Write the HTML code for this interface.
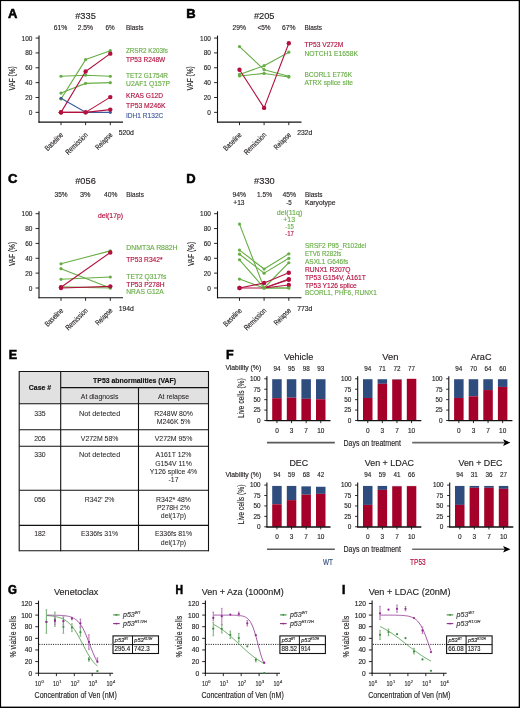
<!DOCTYPE html>
<html><head><meta charset="utf-8"><style>
html,body{margin:0;padding:0;background:#fff;}
svg{display:block;will-change:transform;}
text{font-family:"Liberation Sans",sans-serif;}
</style></head><body>
<svg width="520" height="708" viewBox="0 0 520 708" font-family="Liberation Sans, sans-serif" fill="#231f20" stroke-width="0.15">
<rect x="0" y="0" width="520" height="708" fill="#fff"/>
<text x="8.00" y="18.00" font-size="13" fill="#000" stroke="#000" stroke-width="0.55" font-weight="bold">A</text>
<text x="85.50" y="19.30" font-size="9.8" text-anchor="middle" stroke="#231f20" textLength="20.60" lengthAdjust="spacingAndGlyphs">#335</text>
<text x="60.60" y="30.00" font-size="7.6" text-anchor="middle" stroke="#231f20" textLength="13.60" lengthAdjust="spacingAndGlyphs">61%</text>
<text x="85.40" y="30.00" font-size="7.6" text-anchor="middle" stroke="#231f20" textLength="15.40" lengthAdjust="spacingAndGlyphs">2.5%</text>
<text x="110.00" y="30.00" font-size="7.6" text-anchor="middle" stroke="#231f20" textLength="9.20" lengthAdjust="spacingAndGlyphs">6%</text>
<line x1="39.00" y1="35.60" x2="39.00" y2="122.65" stroke="#111" stroke-width="1.1"/>
<line x1="38.50" y1="122.15" x2="123.00" y2="122.15" stroke="#111" stroke-width="1.1"/>
<line x1="35.60" y1="112.35" x2="39.00" y2="112.35" stroke="#111" stroke-width="0.9"/>
<text x="32.40" y="114.90" font-size="7.2" text-anchor="end" stroke="#231f20" textLength="3.60" lengthAdjust="spacingAndGlyphs">0</text>
<line x1="35.60" y1="97.49" x2="39.00" y2="97.49" stroke="#111" stroke-width="0.9"/>
<text x="32.40" y="100.04" font-size="7.2" text-anchor="end" stroke="#231f20" textLength="7.20" lengthAdjust="spacingAndGlyphs">20</text>
<line x1="35.60" y1="82.63" x2="39.00" y2="82.63" stroke="#111" stroke-width="0.9"/>
<text x="32.40" y="85.18" font-size="7.2" text-anchor="end" stroke="#231f20" textLength="7.20" lengthAdjust="spacingAndGlyphs">40</text>
<line x1="35.60" y1="67.77" x2="39.00" y2="67.77" stroke="#111" stroke-width="0.9"/>
<text x="32.40" y="70.32" font-size="7.2" text-anchor="end" stroke="#231f20" textLength="7.20" lengthAdjust="spacingAndGlyphs">60</text>
<line x1="35.60" y1="52.91" x2="39.00" y2="52.91" stroke="#111" stroke-width="0.9"/>
<text x="32.40" y="55.46" font-size="7.2" text-anchor="end" stroke="#231f20" textLength="7.20" lengthAdjust="spacingAndGlyphs">80</text>
<line x1="35.60" y1="38.05" x2="39.00" y2="38.05" stroke="#111" stroke-width="0.9"/>
<text x="32.40" y="40.60" font-size="7.2" text-anchor="end" stroke="#231f20" textLength="10.80" lengthAdjust="spacingAndGlyphs">100</text>
<line x1="61.00" y1="122.15" x2="61.00" y2="125.15" stroke="#111" stroke-width="0.9"/>
<line x1="85.60" y1="122.15" x2="85.60" y2="125.15" stroke="#111" stroke-width="0.9"/>
<line x1="110.30" y1="122.15" x2="110.30" y2="125.15" stroke="#111" stroke-width="0.9"/>
<text x="63.70" y="135.45" font-size="7.6" text-anchor="end" stroke="#231f20" textLength="22.50" lengthAdjust="spacingAndGlyphs" transform="rotate(-45 63.70 135.45)">Baseline</text>
<text x="88.30" y="135.45" font-size="7.6" text-anchor="end" stroke="#231f20" textLength="27.90" lengthAdjust="spacingAndGlyphs" transform="rotate(-45 88.30 135.45)">Remission</text>
<text x="113.00" y="135.45" font-size="7.6" text-anchor="end" stroke="#231f20" textLength="20.80" lengthAdjust="spacingAndGlyphs" transform="rotate(-45 113.00 135.45)">Relapse</text>
<text x="118.70" y="135.15" font-size="7.2" stroke="#231f20" textLength="15.20" lengthAdjust="spacingAndGlyphs">520d</text>
<text x="15.00" y="78.35" font-size="8.2" text-anchor="middle" stroke="#231f20" textLength="24.20" lengthAdjust="spacingAndGlyphs" transform="rotate(-90 15.00 78.35)">VAF (%)</text>
<text x="126.00" y="29.90" font-size="7.6" stroke="#231f20" textLength="17.60" lengthAdjust="spacingAndGlyphs">Blasts</text>
<text x="126.00" y="52.90" font-size="7.9" fill="#67ad45" stroke="#67ad45" textLength="41.90" lengthAdjust="spacingAndGlyphs">ZRSR2 K203fs</text>
<text x="126.00" y="62.20" font-size="7.9" fill="#b3103f" stroke="#b3103f" textLength="39.20" lengthAdjust="spacingAndGlyphs">TP53 R248W</text>
<text x="126.00" y="78.00" font-size="7.9" fill="#67ad45" stroke="#67ad45" textLength="42.00" lengthAdjust="spacingAndGlyphs">TET2 G1754R</text>
<text x="126.00" y="85.60" font-size="7.9" fill="#67ad45" stroke="#67ad45" textLength="44.00" lengthAdjust="spacingAndGlyphs">U2AF1 Q157P</text>
<text x="126.00" y="97.60" font-size="7.9" fill="#b3103f" stroke="#b3103f" textLength="37.00" lengthAdjust="spacingAndGlyphs">KRAS G12D</text>
<text x="126.00" y="108.20" font-size="7.9" fill="#b3103f" stroke="#b3103f" textLength="39.50" lengthAdjust="spacingAndGlyphs">TP53 M246K</text>
<text x="126.00" y="117.60" font-size="7.9" fill="#3e5b9f" stroke="#3e5b9f" textLength="37.30" lengthAdjust="spacingAndGlyphs">IDH1 R132C</text>
<polyline points="61.00,76.24 85.60,75.20 110.30,76.24" fill="none" stroke="#67ad45" stroke-width="1.1" stroke-linejoin="round"/>
<polyline points="61.00,93.03 85.60,83.37 110.30,82.63" fill="none" stroke="#67ad45" stroke-width="1.1" stroke-linejoin="round"/>
<polyline points="61.00,98.98 85.60,59.60 110.30,50.68" fill="none" stroke="#67ad45" stroke-width="1.1" stroke-linejoin="round"/>
<polyline points="61.00,98.23 85.60,112.35 110.30,112.35" fill="none" stroke="#3e5b9f" stroke-width="1.1" stroke-linejoin="round"/>
<polyline points="61.00,112.35 85.60,71.48 110.30,53.65" fill="none" stroke="#b3103f" stroke-width="1.1" stroke-linejoin="round"/>
<polyline points="61.00,112.35 85.60,112.35 110.30,97.12" fill="none" stroke="#b3103f" stroke-width="1.1" stroke-linejoin="round"/>
<polyline points="61.00,112.35 85.60,112.35 110.30,109.60" fill="none" stroke="#b3103f" stroke-width="1.1" stroke-linejoin="round"/>
<circle cx="61.00" cy="76.24" r="1.6" fill="#67ad45"/>
<circle cx="85.60" cy="75.20" r="1.6" fill="#67ad45"/>
<circle cx="110.30" cy="76.24" r="1.6" fill="#67ad45"/>
<circle cx="61.00" cy="93.03" r="1.6" fill="#67ad45"/>
<circle cx="85.60" cy="83.37" r="1.6" fill="#67ad45"/>
<circle cx="110.30" cy="82.63" r="1.6" fill="#67ad45"/>
<circle cx="61.00" cy="98.98" r="1.6" fill="#67ad45"/>
<circle cx="85.60" cy="59.60" r="1.6" fill="#67ad45"/>
<circle cx="110.30" cy="50.68" r="1.6" fill="#67ad45"/>
<circle cx="61.00" cy="98.23" r="1.6" fill="#3e5b9f"/>
<circle cx="85.60" cy="112.35" r="1.6" fill="#3e5b9f"/>
<circle cx="110.30" cy="112.35" r="1.6" fill="#3e5b9f"/>
<circle cx="61.00" cy="112.35" r="2.2" fill="#b3103f"/>
<circle cx="85.60" cy="71.48" r="2.2" fill="#b3103f"/>
<circle cx="110.30" cy="53.65" r="2.2" fill="#b3103f"/>
<circle cx="61.00" cy="112.35" r="2.2" fill="#b3103f"/>
<circle cx="85.60" cy="112.35" r="2.2" fill="#b3103f"/>
<circle cx="110.30" cy="97.12" r="2.2" fill="#b3103f"/>
<circle cx="61.00" cy="112.35" r="2.2" fill="#b3103f"/>
<circle cx="85.60" cy="112.35" r="2.2" fill="#b3103f"/>
<circle cx="110.30" cy="109.60" r="2.2" fill="#b3103f"/>
<text x="186.30" y="18.00" font-size="13" fill="#000" stroke="#000" stroke-width="0.55" font-weight="bold">B</text>
<text x="264.20" y="19.30" font-size="9.8" text-anchor="middle" stroke="#231f20" textLength="20.60" lengthAdjust="spacingAndGlyphs">#205</text>
<text x="239.25" y="30.00" font-size="7.6" text-anchor="middle" stroke="#231f20" textLength="13.50" lengthAdjust="spacingAndGlyphs">29%</text>
<text x="264.00" y="30.00" font-size="7.6" text-anchor="middle" stroke="#231f20" textLength="13.20" lengthAdjust="spacingAndGlyphs">&lt;5%</text>
<text x="288.80" y="30.00" font-size="7.6" text-anchor="middle" stroke="#231f20" textLength="13.60" lengthAdjust="spacingAndGlyphs">67%</text>
<line x1="217.50" y1="35.60" x2="217.50" y2="122.65" stroke="#111" stroke-width="1.1"/>
<line x1="217.00" y1="122.15" x2="301.50" y2="122.15" stroke="#111" stroke-width="1.1"/>
<line x1="214.10" y1="112.35" x2="217.50" y2="112.35" stroke="#111" stroke-width="0.9"/>
<text x="210.90" y="114.90" font-size="7.2" text-anchor="end" stroke="#231f20" textLength="3.60" lengthAdjust="spacingAndGlyphs">0</text>
<line x1="214.10" y1="97.49" x2="217.50" y2="97.49" stroke="#111" stroke-width="0.9"/>
<text x="210.90" y="100.04" font-size="7.2" text-anchor="end" stroke="#231f20" textLength="7.20" lengthAdjust="spacingAndGlyphs">20</text>
<line x1="214.10" y1="82.63" x2="217.50" y2="82.63" stroke="#111" stroke-width="0.9"/>
<text x="210.90" y="85.18" font-size="7.2" text-anchor="end" stroke="#231f20" textLength="7.20" lengthAdjust="spacingAndGlyphs">40</text>
<line x1="214.10" y1="67.77" x2="217.50" y2="67.77" stroke="#111" stroke-width="0.9"/>
<text x="210.90" y="70.32" font-size="7.2" text-anchor="end" stroke="#231f20" textLength="7.20" lengthAdjust="spacingAndGlyphs">60</text>
<line x1="214.10" y1="52.91" x2="217.50" y2="52.91" stroke="#111" stroke-width="0.9"/>
<text x="210.90" y="55.46" font-size="7.2" text-anchor="end" stroke="#231f20" textLength="7.20" lengthAdjust="spacingAndGlyphs">80</text>
<line x1="214.10" y1="38.05" x2="217.50" y2="38.05" stroke="#111" stroke-width="0.9"/>
<text x="210.90" y="40.60" font-size="7.2" text-anchor="end" stroke="#231f20" textLength="10.80" lengthAdjust="spacingAndGlyphs">100</text>
<line x1="239.50" y1="122.15" x2="239.50" y2="125.15" stroke="#111" stroke-width="0.9"/>
<line x1="264.10" y1="122.15" x2="264.10" y2="125.15" stroke="#111" stroke-width="0.9"/>
<line x1="288.80" y1="122.15" x2="288.80" y2="125.15" stroke="#111" stroke-width="0.9"/>
<text x="242.20" y="135.45" font-size="7.6" text-anchor="end" stroke="#231f20" textLength="22.50" lengthAdjust="spacingAndGlyphs" transform="rotate(-45 242.20 135.45)">Baseline</text>
<text x="266.80" y="135.45" font-size="7.6" text-anchor="end" stroke="#231f20" textLength="27.90" lengthAdjust="spacingAndGlyphs" transform="rotate(-45 266.80 135.45)">Remission</text>
<text x="291.50" y="135.45" font-size="7.6" text-anchor="end" stroke="#231f20" textLength="20.80" lengthAdjust="spacingAndGlyphs" transform="rotate(-45 291.50 135.45)">Relapse</text>
<text x="297.20" y="135.15" font-size="7.2" stroke="#231f20" textLength="15.20" lengthAdjust="spacingAndGlyphs">232d</text>
<text x="193.50" y="78.35" font-size="8.2" text-anchor="middle" stroke="#231f20" textLength="24.20" lengthAdjust="spacingAndGlyphs" transform="rotate(-90 193.50 78.35)">VAF (%)</text>
<text x="304.50" y="29.90" font-size="7.6" stroke="#231f20" textLength="17.60" lengthAdjust="spacingAndGlyphs">Blasts</text>
<text x="304.50" y="47.00" font-size="7.9" fill="#b3103f" stroke="#b3103f" textLength="38.80" lengthAdjust="spacingAndGlyphs">TP53 V272M</text>
<text x="304.50" y="55.80" font-size="7.9" fill="#67ad45" stroke="#67ad45" textLength="53.50" lengthAdjust="spacingAndGlyphs">NOTCH1 E1658K</text>
<text x="304.50" y="76.60" font-size="7.9" fill="#67ad45" stroke="#67ad45" textLength="47.50" lengthAdjust="spacingAndGlyphs">BCORL1 E776K</text>
<text x="304.50" y="84.60" font-size="7.9" fill="#67ad45" stroke="#67ad45" textLength="48.50" lengthAdjust="spacingAndGlyphs">ATRX splice site</text>
<polyline points="239.50,46.59 264.10,69.70 288.80,76.31" fill="none" stroke="#67ad45" stroke-width="1.1" stroke-linejoin="round"/>
<polyline points="239.50,74.46 264.10,65.69 288.80,52.17" fill="none" stroke="#67ad45" stroke-width="1.1" stroke-linejoin="round"/>
<polyline points="239.50,75.94 264.10,73.42 288.80,77.06" fill="none" stroke="#67ad45" stroke-width="1.1" stroke-linejoin="round"/>
<polyline points="239.50,69.70 264.10,107.89 288.80,43.25" fill="none" stroke="#b3103f" stroke-width="1.1" stroke-linejoin="round"/>
<circle cx="239.50" cy="46.59" r="1.6" fill="#67ad45"/>
<circle cx="264.10" cy="69.70" r="1.6" fill="#67ad45"/>
<circle cx="288.80" cy="76.31" r="1.6" fill="#67ad45"/>
<circle cx="239.50" cy="74.46" r="1.6" fill="#67ad45"/>
<circle cx="264.10" cy="65.69" r="1.6" fill="#67ad45"/>
<circle cx="288.80" cy="52.17" r="1.6" fill="#67ad45"/>
<circle cx="239.50" cy="75.94" r="1.6" fill="#67ad45"/>
<circle cx="264.10" cy="73.42" r="1.6" fill="#67ad45"/>
<circle cx="288.80" cy="77.06" r="1.6" fill="#67ad45"/>
<circle cx="239.50" cy="69.70" r="2.2" fill="#b3103f"/>
<circle cx="264.10" cy="107.89" r="2.2" fill="#b3103f"/>
<circle cx="288.80" cy="43.25" r="2.2" fill="#b3103f"/>
<text x="8.00" y="183.00" font-size="13" fill="#000" stroke="#000" stroke-width="0.55" font-weight="bold">C</text>
<text x="85.50" y="184.30" font-size="9.8" text-anchor="middle" stroke="#231f20" textLength="20.60" lengthAdjust="spacingAndGlyphs">#056</text>
<text x="61.05" y="196.80" font-size="7.6" text-anchor="middle" stroke="#231f20" textLength="13.10" lengthAdjust="spacingAndGlyphs">35%</text>
<text x="85.25" y="196.80" font-size="7.6" text-anchor="middle" stroke="#231f20" textLength="10.50" lengthAdjust="spacingAndGlyphs">3%</text>
<text x="110.70" y="196.80" font-size="7.6" text-anchor="middle" stroke="#231f20" textLength="13.40" lengthAdjust="spacingAndGlyphs">40%</text>
<line x1="39.00" y1="211.25" x2="39.00" y2="298.30" stroke="#111" stroke-width="1.1"/>
<line x1="38.50" y1="297.80" x2="123.00" y2="297.80" stroke="#111" stroke-width="1.1"/>
<line x1="35.60" y1="288.00" x2="39.00" y2="288.00" stroke="#111" stroke-width="0.9"/>
<text x="32.40" y="290.55" font-size="7.2" text-anchor="end" stroke="#231f20" textLength="3.60" lengthAdjust="spacingAndGlyphs">0</text>
<line x1="35.60" y1="273.14" x2="39.00" y2="273.14" stroke="#111" stroke-width="0.9"/>
<text x="32.40" y="275.69" font-size="7.2" text-anchor="end" stroke="#231f20" textLength="7.20" lengthAdjust="spacingAndGlyphs">20</text>
<line x1="35.60" y1="258.28" x2="39.00" y2="258.28" stroke="#111" stroke-width="0.9"/>
<text x="32.40" y="260.83" font-size="7.2" text-anchor="end" stroke="#231f20" textLength="7.20" lengthAdjust="spacingAndGlyphs">40</text>
<line x1="35.60" y1="243.42" x2="39.00" y2="243.42" stroke="#111" stroke-width="0.9"/>
<text x="32.40" y="245.97" font-size="7.2" text-anchor="end" stroke="#231f20" textLength="7.20" lengthAdjust="spacingAndGlyphs">60</text>
<line x1="35.60" y1="228.56" x2="39.00" y2="228.56" stroke="#111" stroke-width="0.9"/>
<text x="32.40" y="231.11" font-size="7.2" text-anchor="end" stroke="#231f20" textLength="7.20" lengthAdjust="spacingAndGlyphs">80</text>
<line x1="35.60" y1="213.70" x2="39.00" y2="213.70" stroke="#111" stroke-width="0.9"/>
<text x="32.40" y="216.25" font-size="7.2" text-anchor="end" stroke="#231f20" textLength="10.80" lengthAdjust="spacingAndGlyphs">100</text>
<line x1="61.00" y1="297.80" x2="61.00" y2="300.80" stroke="#111" stroke-width="0.9"/>
<line x1="85.60" y1="297.80" x2="85.60" y2="300.80" stroke="#111" stroke-width="0.9"/>
<line x1="110.30" y1="297.80" x2="110.30" y2="300.80" stroke="#111" stroke-width="0.9"/>
<text x="63.70" y="311.10" font-size="7.6" text-anchor="end" stroke="#231f20" textLength="22.50" lengthAdjust="spacingAndGlyphs" transform="rotate(-45 63.70 311.10)">Baseline</text>
<text x="88.30" y="311.10" font-size="7.6" text-anchor="end" stroke="#231f20" textLength="27.90" lengthAdjust="spacingAndGlyphs" transform="rotate(-45 88.30 311.10)">Remission</text>
<text x="113.00" y="311.10" font-size="7.6" text-anchor="end" stroke="#231f20" textLength="20.80" lengthAdjust="spacingAndGlyphs" transform="rotate(-45 113.00 311.10)">Relapse</text>
<text x="118.70" y="310.80" font-size="7.2" stroke="#231f20" textLength="15.20" lengthAdjust="spacingAndGlyphs">194d</text>
<text x="15.00" y="254.00" font-size="8.2" text-anchor="middle" stroke="#231f20" textLength="24.20" lengthAdjust="spacingAndGlyphs" transform="rotate(-90 15.00 254.00)">VAF (%)</text>
<text x="126.30" y="197.00" font-size="7.6" stroke="#231f20" textLength="17.60" lengthAdjust="spacingAndGlyphs">Blasts</text>
<text x="126.30" y="250.00" font-size="7.9" fill="#67ad45" stroke="#67ad45" textLength="51.30" lengthAdjust="spacingAndGlyphs">DNMT3A R882H</text>
<text x="126.30" y="262.00" font-size="7.9" fill="#b3103f" stroke="#b3103f" textLength="36.30" lengthAdjust="spacingAndGlyphs">TP53 R342*</text>
<text x="126.30" y="279.00" font-size="7.9" fill="#67ad45" stroke="#67ad45" textLength="40.00" lengthAdjust="spacingAndGlyphs">TET2 Q317fs</text>
<text x="126.30" y="286.50" font-size="7.9" fill="#b3103f" stroke="#b3103f" textLength="38.30" lengthAdjust="spacingAndGlyphs">TP53 P278H</text>
<text x="126.30" y="294.00" font-size="7.9" fill="#67ad45" stroke="#67ad45" textLength="37.50" lengthAdjust="spacingAndGlyphs">NRAS G12A</text>
<polyline points="61.00,263.78 110.30,250.85" fill="none" stroke="#67ad45" stroke-width="1.1" stroke-linejoin="round"/>
<polyline points="61.00,268.68 110.30,288.00" fill="none" stroke="#67ad45" stroke-width="1.1" stroke-linejoin="round"/>
<polyline points="61.00,279.31 110.30,277.00" fill="none" stroke="#67ad45" stroke-width="1.1" stroke-linejoin="round"/>
<polyline points="61.00,286.89 110.30,288.00" fill="none" stroke="#67ad45" stroke-width="1.1" stroke-linejoin="round"/>
<polyline points="61.00,287.26 110.30,252.48" fill="none" stroke="#b3103f" stroke-width="1.1" stroke-linejoin="round"/>
<polyline points="61.00,288.00 110.30,286.37" fill="none" stroke="#b3103f" stroke-width="1.1" stroke-linejoin="round"/>
<circle cx="61.00" cy="263.78" r="1.6" fill="#67ad45"/>
<circle cx="110.30" cy="250.85" r="1.6" fill="#67ad45"/>
<circle cx="61.00" cy="268.68" r="1.6" fill="#67ad45"/>
<circle cx="110.30" cy="288.00" r="1.6" fill="#67ad45"/>
<circle cx="61.00" cy="279.31" r="1.6" fill="#67ad45"/>
<circle cx="110.30" cy="277.00" r="1.6" fill="#67ad45"/>
<circle cx="61.00" cy="286.89" r="1.6" fill="#67ad45"/>
<circle cx="110.30" cy="288.00" r="1.6" fill="#67ad45"/>
<circle cx="61.00" cy="287.26" r="2.2" fill="#b3103f"/>
<circle cx="110.30" cy="252.48" r="2.2" fill="#b3103f"/>
<circle cx="61.00" cy="288.00" r="2.2" fill="#b3103f"/>
<circle cx="110.30" cy="286.37" r="2.2" fill="#b3103f"/>
<text x="98.00" y="218.00" font-size="7.0" fill="#b3103f" stroke="#b3103f" textLength="25.00" lengthAdjust="spacingAndGlyphs">del(17p)</text>
<text x="186.30" y="183.00" font-size="13" fill="#000" stroke="#000" stroke-width="0.55" font-weight="bold">D</text>
<text x="264.40" y="184.30" font-size="9.8" text-anchor="middle" stroke="#231f20" textLength="20.60" lengthAdjust="spacingAndGlyphs">#330</text>
<text x="239.35" y="196.80" font-size="7.6" text-anchor="middle" stroke="#231f20" textLength="13.70" lengthAdjust="spacingAndGlyphs">94%</text>
<text x="264.50" y="196.80" font-size="7.6" text-anchor="middle" stroke="#231f20" textLength="15.00" lengthAdjust="spacingAndGlyphs">1.5%</text>
<text x="289.35" y="196.80" font-size="7.6" text-anchor="middle" stroke="#231f20" textLength="13.70" lengthAdjust="spacingAndGlyphs">45%</text>
<line x1="217.50" y1="211.25" x2="217.50" y2="298.30" stroke="#111" stroke-width="1.1"/>
<line x1="217.00" y1="297.80" x2="301.50" y2="297.80" stroke="#111" stroke-width="1.1"/>
<line x1="214.10" y1="288.00" x2="217.50" y2="288.00" stroke="#111" stroke-width="0.9"/>
<text x="210.90" y="290.55" font-size="7.2" text-anchor="end" stroke="#231f20" textLength="3.60" lengthAdjust="spacingAndGlyphs">0</text>
<line x1="214.10" y1="273.14" x2="217.50" y2="273.14" stroke="#111" stroke-width="0.9"/>
<text x="210.90" y="275.69" font-size="7.2" text-anchor="end" stroke="#231f20" textLength="7.20" lengthAdjust="spacingAndGlyphs">20</text>
<line x1="214.10" y1="258.28" x2="217.50" y2="258.28" stroke="#111" stroke-width="0.9"/>
<text x="210.90" y="260.83" font-size="7.2" text-anchor="end" stroke="#231f20" textLength="7.20" lengthAdjust="spacingAndGlyphs">40</text>
<line x1="214.10" y1="243.42" x2="217.50" y2="243.42" stroke="#111" stroke-width="0.9"/>
<text x="210.90" y="245.97" font-size="7.2" text-anchor="end" stroke="#231f20" textLength="7.20" lengthAdjust="spacingAndGlyphs">60</text>
<line x1="214.10" y1="228.56" x2="217.50" y2="228.56" stroke="#111" stroke-width="0.9"/>
<text x="210.90" y="231.11" font-size="7.2" text-anchor="end" stroke="#231f20" textLength="7.20" lengthAdjust="spacingAndGlyphs">80</text>
<line x1="214.10" y1="213.70" x2="217.50" y2="213.70" stroke="#111" stroke-width="0.9"/>
<text x="210.90" y="216.25" font-size="7.2" text-anchor="end" stroke="#231f20" textLength="10.80" lengthAdjust="spacingAndGlyphs">100</text>
<line x1="239.50" y1="297.80" x2="239.50" y2="300.80" stroke="#111" stroke-width="0.9"/>
<line x1="264.10" y1="297.80" x2="264.10" y2="300.80" stroke="#111" stroke-width="0.9"/>
<line x1="288.80" y1="297.80" x2="288.80" y2="300.80" stroke="#111" stroke-width="0.9"/>
<text x="242.20" y="311.10" font-size="7.6" text-anchor="end" stroke="#231f20" textLength="22.50" lengthAdjust="spacingAndGlyphs" transform="rotate(-45 242.20 311.10)">Baseline</text>
<text x="266.80" y="311.10" font-size="7.6" text-anchor="end" stroke="#231f20" textLength="27.90" lengthAdjust="spacingAndGlyphs" transform="rotate(-45 266.80 311.10)">Remission</text>
<text x="291.50" y="311.10" font-size="7.6" text-anchor="end" stroke="#231f20" textLength="20.80" lengthAdjust="spacingAndGlyphs" transform="rotate(-45 291.50 311.10)">Relapse</text>
<text x="297.20" y="310.80" font-size="7.2" stroke="#231f20" textLength="15.20" lengthAdjust="spacingAndGlyphs">773d</text>
<text x="193.50" y="254.00" font-size="8.2" text-anchor="middle" stroke="#231f20" textLength="24.20" lengthAdjust="spacingAndGlyphs" transform="rotate(-90 193.50 254.00)">VAF (%)</text>
<text x="305.00" y="196.90" font-size="7.6" stroke="#231f20" textLength="17.60" lengthAdjust="spacingAndGlyphs">Blasts</text>
<text x="305.00" y="205.00" font-size="7.6" stroke="#231f20" textLength="30.50" lengthAdjust="spacingAndGlyphs">Karyotype</text>
<text x="305.00" y="248.30" font-size="7.9" fill="#67ad45" stroke="#67ad45" textLength="61.30" lengthAdjust="spacingAndGlyphs">SRSF2 P95_R102del</text>
<text x="305.00" y="256.30" font-size="7.9" fill="#67ad45" stroke="#67ad45" textLength="36.30" lengthAdjust="spacingAndGlyphs">ETV6 R282fs</text>
<text x="305.00" y="264.00" font-size="7.9" fill="#67ad45" stroke="#67ad45" textLength="43.30" lengthAdjust="spacingAndGlyphs">ASXL1 G646fs</text>
<text x="305.00" y="272.00" font-size="7.9" fill="#b3103f" stroke="#b3103f" textLength="45.50" lengthAdjust="spacingAndGlyphs">RUNX1 R207Q</text>
<text x="305.00" y="279.50" font-size="7.9" fill="#b3103f" stroke="#b3103f" textLength="60.80" lengthAdjust="spacingAndGlyphs">TP53 G154V, A161T</text>
<text x="305.00" y="287.50" font-size="7.9" fill="#b3103f" stroke="#b3103f" textLength="51.80" lengthAdjust="spacingAndGlyphs">TP53 Y126 splice</text>
<text x="305.00" y="295.00" font-size="7.9" fill="#67ad45" stroke="#67ad45" textLength="71.80" lengthAdjust="spacingAndGlyphs">BCORL1, PHF6, RUNX1</text>
<polyline points="239.50,224.10 264.10,288.00 288.80,262.74" fill="none" stroke="#67ad45" stroke-width="1.1" stroke-linejoin="round"/>
<polyline points="239.50,250.11 264.10,268.98 288.80,253.82" fill="none" stroke="#67ad45" stroke-width="1.1" stroke-linejoin="round"/>
<polyline points="239.50,254.19 264.10,273.14 288.80,258.28" fill="none" stroke="#67ad45" stroke-width="1.1" stroke-linejoin="round"/>
<polyline points="239.50,259.77 264.10,288.00 288.80,288.00" fill="none" stroke="#67ad45" stroke-width="1.1" stroke-linejoin="round"/>
<polyline points="239.50,279.08 264.10,288.00 288.80,288.00" fill="none" stroke="#67ad45" stroke-width="1.1" stroke-linejoin="round"/>
<polyline points="239.50,288.00 264.10,283.02 288.80,272.77" fill="none" stroke="#b3103f" stroke-width="1.1" stroke-linejoin="round"/>
<polyline points="239.50,288.00 264.10,288.00 288.80,279.08" fill="none" stroke="#b3103f" stroke-width="1.1" stroke-linejoin="round"/>
<polyline points="264.10,288.00 288.80,279.83" fill="none" stroke="#b3103f" stroke-width="1.1" stroke-linejoin="round"/>
<polyline points="264.10,288.00 288.80,285.03" fill="none" stroke="#b3103f" stroke-width="1.1" stroke-linejoin="round"/>
<circle cx="239.50" cy="288.00" r="2.2" fill="#b3103f"/>
<circle cx="264.10" cy="283.02" r="2.2" fill="#b3103f"/>
<circle cx="288.80" cy="272.77" r="2.2" fill="#b3103f"/>
<circle cx="239.50" cy="288.00" r="2.2" fill="#b3103f"/>
<circle cx="288.80" cy="279.08" r="2.2" fill="#b3103f"/>
<circle cx="288.80" cy="279.83" r="2.2" fill="#b3103f"/>
<circle cx="288.80" cy="285.03" r="2.2" fill="#b3103f"/>
<circle cx="239.50" cy="224.10" r="1.6" fill="#67ad45"/>
<circle cx="264.10" cy="288.00" r="1.6" fill="#67ad45"/>
<circle cx="288.80" cy="262.74" r="1.6" fill="#67ad45"/>
<circle cx="239.50" cy="250.11" r="1.6" fill="#67ad45"/>
<circle cx="264.10" cy="268.98" r="1.6" fill="#67ad45"/>
<circle cx="288.80" cy="253.82" r="1.6" fill="#67ad45"/>
<circle cx="239.50" cy="254.19" r="1.6" fill="#67ad45"/>
<circle cx="264.10" cy="273.14" r="1.6" fill="#67ad45"/>
<circle cx="288.80" cy="258.28" r="1.6" fill="#67ad45"/>
<circle cx="239.50" cy="259.77" r="1.6" fill="#67ad45"/>
<circle cx="264.10" cy="288.00" r="1.6" fill="#67ad45"/>
<circle cx="288.80" cy="288.00" r="1.6" fill="#67ad45"/>
<circle cx="239.50" cy="279.08" r="1.6" fill="#67ad45"/>
<circle cx="264.10" cy="288.00" r="1.6" fill="#67ad45"/>
<circle cx="288.80" cy="288.00" r="1.6" fill="#67ad45"/>
<text x="238.90" y="205.00" font-size="7.3" text-anchor="middle" stroke="#231f20" textLength="11.20" lengthAdjust="spacingAndGlyphs">+13</text>
<text x="289.00" y="205.00" font-size="7.3" text-anchor="middle" stroke="#231f20" textLength="5.50" lengthAdjust="spacingAndGlyphs">-5</text>
<text x="289.60" y="214.60" font-size="7.4" text-anchor="middle" fill="#67ad45" stroke="#67ad45" textLength="25.70" lengthAdjust="spacingAndGlyphs">del(11q)</text>
<text x="289.20" y="222.00" font-size="7.4" text-anchor="middle" fill="#67ad45" stroke="#67ad45" textLength="11.70" lengthAdjust="spacingAndGlyphs">+13</text>
<text x="289.50" y="229.10" font-size="7.4" text-anchor="middle" fill="#67ad45" stroke="#67ad45" textLength="8.70" lengthAdjust="spacingAndGlyphs">-15</text>
<text x="289.50" y="236.00" font-size="7.4" text-anchor="middle" fill="#b3103f" stroke="#b3103f" textLength="8.70" lengthAdjust="spacingAndGlyphs">-17</text>
<text x="8.80" y="358.50" font-size="12.5" fill="#000" stroke="#000" stroke-width="0.55" font-weight="bold">E</text>
<rect x="19.20" y="371.50" width="189.30" height="32.20" fill="#e1e1e1"/>
<line x1="19.20" y1="371.50" x2="208.50" y2="371.50" stroke="#111" stroke-width="1.1"/>
<line x1="19.20" y1="403.70" x2="208.50" y2="403.70" stroke="#111" stroke-width="1.1"/>
<line x1="19.20" y1="429.70" x2="208.50" y2="429.70" stroke="#111" stroke-width="1.1"/>
<line x1="19.20" y1="446.20" x2="208.50" y2="446.20" stroke="#111" stroke-width="1.1"/>
<line x1="19.20" y1="490.30" x2="208.50" y2="490.30" stroke="#111" stroke-width="1.1"/>
<line x1="19.20" y1="525.40" x2="208.50" y2="525.40" stroke="#111" stroke-width="1.1"/>
<line x1="19.20" y1="550.80" x2="208.50" y2="550.80" stroke="#111" stroke-width="1.1"/>
<line x1="60.70" y1="387.60" x2="208.50" y2="387.60" stroke="#111" stroke-width="1.1"/>
<line x1="19.20" y1="371.00" x2="19.20" y2="551.30" stroke="#111" stroke-width="1.1"/>
<line x1="60.70" y1="371.00" x2="60.70" y2="551.30" stroke="#111" stroke-width="1.1"/>
<line x1="208.50" y1="371.00" x2="208.50" y2="551.30" stroke="#111" stroke-width="1.1"/>
<line x1="138.50" y1="387.60" x2="138.50" y2="550.80" stroke="#111" stroke-width="1.1"/>
<text x="39.95" y="389.80" font-size="6.9" text-anchor="middle" fill="#111" stroke="#111" font-weight="bold">Case #</text>
<text x="134.60" y="382.50" font-size="6.9" text-anchor="middle" fill="#111" stroke="#111" font-weight="bold">TP53 abnormalities (VAF)</text>
<text x="99.60" y="399.00" font-size="6.9" text-anchor="middle" stroke="#231f20" stroke-width="0.05">At diagnosis</text>
<text x="173.50" y="399.00" font-size="6.9" text-anchor="middle" stroke="#231f20" stroke-width="0.05">At relapse</text>
<text x="39.95" y="415.50" font-size="6.9" text-anchor="middle" stroke="#231f20" stroke-width="0.05">335</text>
<text x="99.60" y="415.50" font-size="7.3" text-anchor="middle" stroke="#231f20" stroke-width="0.05" textLength="41.30" lengthAdjust="spacingAndGlyphs">Not detected</text>
<text x="173.50" y="415.50" font-size="6.9" text-anchor="middle" stroke="#231f20" stroke-width="0.05">R248W 80%</text>
<text x="173.50" y="423.70" font-size="6.9" text-anchor="middle" stroke="#231f20" stroke-width="0.05">M246K 5%</text>
<text x="39.95" y="441.20" font-size="6.9" text-anchor="middle" stroke="#231f20" stroke-width="0.05">205</text>
<text x="99.60" y="441.20" font-size="6.9" text-anchor="middle" stroke="#231f20" stroke-width="0.05">V272M 58%</text>
<text x="173.50" y="441.20" font-size="6.9" text-anchor="middle" stroke="#231f20" stroke-width="0.05">V272M 95%</text>
<text x="39.95" y="457.40" font-size="6.9" text-anchor="middle" stroke="#231f20" stroke-width="0.05">330</text>
<text x="99.60" y="457.40" font-size="7.3" text-anchor="middle" stroke="#231f20" stroke-width="0.05" textLength="41.30" lengthAdjust="spacingAndGlyphs">Not detected</text>
<text x="173.50" y="457.40" font-size="6.9" text-anchor="middle" stroke="#231f20" stroke-width="0.05">A161T 12%</text>
<text x="173.50" y="465.60" font-size="6.9" text-anchor="middle" stroke="#231f20" stroke-width="0.05">G154V 11%</text>
<text x="173.50" y="473.80" font-size="6.9" text-anchor="middle" stroke="#231f20" stroke-width="0.05">Y126 splice 4%</text>
<text x="173.50" y="482.00" font-size="6.9" text-anchor="middle" stroke="#231f20" stroke-width="0.05">-17</text>
<text x="39.95" y="501.50" font-size="6.9" text-anchor="middle" stroke="#231f20" stroke-width="0.05">056</text>
<text x="99.60" y="501.50" font-size="6.9" text-anchor="middle" stroke="#231f20" stroke-width="0.05">R342' 2%</text>
<text x="173.50" y="501.50" font-size="6.9" text-anchor="middle" stroke="#231f20" stroke-width="0.05">R342* 48%</text>
<text x="173.50" y="509.70" font-size="6.9" text-anchor="middle" stroke="#231f20" stroke-width="0.05">P278H 2%</text>
<text x="173.50" y="517.90" font-size="6.9" text-anchor="middle" stroke="#231f20" stroke-width="0.05">del(17p)</text>
<text x="39.95" y="536.40" font-size="6.9" text-anchor="middle" stroke="#231f20" stroke-width="0.05">182</text>
<text x="99.60" y="536.40" font-size="6.9" text-anchor="middle" stroke="#231f20" stroke-width="0.05">E336fs 31%</text>
<text x="173.50" y="536.40" font-size="6.9" text-anchor="middle" stroke="#231f20" stroke-width="0.05">E336fs 81%</text>
<text x="173.50" y="544.60" font-size="6.9" text-anchor="middle" stroke="#231f20" stroke-width="0.05">del(17p)</text>
<text x="226.00" y="358.80" font-size="12.5" fill="#000" stroke="#000" stroke-width="0.55" font-weight="bold">F</text>
<text x="298.60" y="359.70" font-size="8.8" text-anchor="middle" stroke="#231f20" textLength="29.20" lengthAdjust="spacingAndGlyphs">Vehicle</text>
<text x="276.95" y="370.50" font-size="6.8" text-anchor="middle" stroke="#231f20" textLength="7.00" lengthAdjust="spacingAndGlyphs">94</text>
<rect x="272.20" y="379.22" width="9.50" height="18.97" fill="#2f4c7f"/>
<rect x="272.20" y="398.19" width="9.50" height="22.31" fill="#a50029"/>
<line x1="276.95" y1="420.50" x2="276.95" y2="423.10" stroke="#111" stroke-width="0.9"/>
<text x="276.95" y="433.00" font-size="7.0" text-anchor="middle" stroke="#231f20" textLength="3.60" lengthAdjust="spacingAndGlyphs">0</text>
<text x="291.55" y="370.50" font-size="6.8" text-anchor="middle" stroke="#231f20" textLength="7.00" lengthAdjust="spacingAndGlyphs">95</text>
<rect x="286.80" y="379.22" width="9.50" height="18.47" fill="#2f4c7f"/>
<rect x="286.80" y="397.69" width="9.50" height="22.81" fill="#a50029"/>
<line x1="291.55" y1="420.50" x2="291.55" y2="423.10" stroke="#111" stroke-width="0.9"/>
<text x="291.55" y="433.00" font-size="7.0" text-anchor="middle" stroke="#231f20" textLength="3.60" lengthAdjust="spacingAndGlyphs">3</text>
<text x="306.15" y="370.50" font-size="6.8" text-anchor="middle" stroke="#231f20" textLength="7.00" lengthAdjust="spacingAndGlyphs">98</text>
<rect x="301.40" y="379.22" width="9.50" height="19.60" fill="#2f4c7f"/>
<rect x="301.40" y="398.82" width="9.50" height="21.68" fill="#a50029"/>
<line x1="306.15" y1="420.50" x2="306.15" y2="423.10" stroke="#111" stroke-width="0.9"/>
<text x="306.15" y="433.00" font-size="7.0" text-anchor="middle" stroke="#231f20" textLength="3.60" lengthAdjust="spacingAndGlyphs">7</text>
<text x="320.75" y="370.50" font-size="6.8" text-anchor="middle" stroke="#231f20" textLength="7.00" lengthAdjust="spacingAndGlyphs">93</text>
<rect x="316.00" y="379.22" width="9.50" height="20.02" fill="#2f4c7f"/>
<rect x="316.00" y="399.23" width="9.50" height="21.27" fill="#a50029"/>
<line x1="320.75" y1="420.50" x2="320.75" y2="423.10" stroke="#111" stroke-width="0.9"/>
<text x="320.75" y="433.00" font-size="7.0" text-anchor="middle" stroke="#231f20" textLength="7.20" lengthAdjust="spacingAndGlyphs">10</text>
<line x1="266.90" y1="376.13" x2="266.90" y2="421.00" stroke="#111" stroke-width="1.1"/>
<line x1="266.40" y1="420.70" x2="330.50" y2="420.70" stroke="#111" stroke-width="1.3"/>
<line x1="264.30" y1="420.50" x2="266.90" y2="420.50" stroke="#111" stroke-width="0.9"/>
<text x="260.60" y="422.80" font-size="6.6" text-anchor="end" stroke="#231f20" textLength="3.60" lengthAdjust="spacingAndGlyphs">0</text>
<line x1="264.30" y1="410.07" x2="266.90" y2="410.07" stroke="#111" stroke-width="0.9"/>
<text x="260.60" y="412.38" font-size="6.6" text-anchor="end" stroke="#231f20" textLength="7.10" lengthAdjust="spacingAndGlyphs">25</text>
<line x1="264.30" y1="399.65" x2="266.90" y2="399.65" stroke="#111" stroke-width="0.9"/>
<text x="260.60" y="401.95" font-size="6.6" text-anchor="end" stroke="#231f20" textLength="7.10" lengthAdjust="spacingAndGlyphs">50</text>
<line x1="264.30" y1="389.23" x2="266.90" y2="389.23" stroke="#111" stroke-width="0.9"/>
<text x="260.60" y="391.53" font-size="6.6" text-anchor="end" stroke="#231f20" textLength="7.10" lengthAdjust="spacingAndGlyphs">75</text>
<line x1="264.30" y1="378.80" x2="266.90" y2="378.80" stroke="#111" stroke-width="0.9"/>
<text x="260.60" y="381.10" font-size="6.6" text-anchor="end" stroke="#231f20" textLength="10.50" lengthAdjust="spacingAndGlyphs">100</text>
<text x="225.40" y="370.30" font-size="7.0" stroke="#231f20" textLength="35.80" lengthAdjust="spacingAndGlyphs">Viability (%)</text>
<text x="244.50" y="398.10" font-size="8.8" text-anchor="middle" stroke="#231f20" textLength="39.80" lengthAdjust="spacingAndGlyphs" transform="rotate(-90 244.50 398.10)">Live cells (%)</text>
<text x="390.30" y="359.70" font-size="8.8" text-anchor="middle" stroke="#231f20" textLength="16.10" lengthAdjust="spacingAndGlyphs">Ven</text>
<text x="367.75" y="370.50" font-size="6.8" text-anchor="middle" stroke="#231f20" textLength="7.00" lengthAdjust="spacingAndGlyphs">94</text>
<rect x="363.00" y="379.22" width="9.50" height="18.76" fill="#2f4c7f"/>
<rect x="363.00" y="397.98" width="9.50" height="22.52" fill="#a50029"/>
<line x1="367.75" y1="420.50" x2="367.75" y2="423.10" stroke="#111" stroke-width="0.9"/>
<text x="367.75" y="433.00" font-size="7.0" text-anchor="middle" stroke="#231f20" textLength="3.60" lengthAdjust="spacingAndGlyphs">0</text>
<text x="382.35" y="370.50" font-size="6.8" text-anchor="middle" stroke="#231f20" textLength="7.00" lengthAdjust="spacingAndGlyphs">71</text>
<rect x="377.60" y="379.22" width="9.50" height="4.59" fill="#2f4c7f"/>
<rect x="377.60" y="383.80" width="9.50" height="36.70" fill="#a50029"/>
<line x1="382.35" y1="420.50" x2="382.35" y2="423.10" stroke="#111" stroke-width="0.9"/>
<text x="382.35" y="433.00" font-size="7.0" text-anchor="middle" stroke="#231f20" textLength="3.60" lengthAdjust="spacingAndGlyphs">3</text>
<text x="396.95" y="370.50" font-size="6.8" text-anchor="middle" stroke="#231f20" textLength="7.00" lengthAdjust="spacingAndGlyphs">72</text>
<rect x="392.20" y="379.22" width="9.50" height="0.42" fill="#2f4c7f"/>
<rect x="392.20" y="379.63" width="9.50" height="40.87" fill="#a50029"/>
<line x1="396.95" y1="420.50" x2="396.95" y2="423.10" stroke="#111" stroke-width="0.9"/>
<text x="396.95" y="433.00" font-size="7.0" text-anchor="middle" stroke="#231f20" textLength="3.60" lengthAdjust="spacingAndGlyphs">7</text>
<text x="411.55" y="370.50" font-size="6.8" text-anchor="middle" stroke="#231f20" textLength="7.00" lengthAdjust="spacingAndGlyphs">77</text>
<rect x="406.80" y="378.80" width="9.50" height="0.00" fill="#2f4c7f"/>
<rect x="406.80" y="378.80" width="9.50" height="41.70" fill="#a50029"/>
<line x1="411.55" y1="420.50" x2="411.55" y2="423.10" stroke="#111" stroke-width="0.9"/>
<text x="411.55" y="433.00" font-size="7.0" text-anchor="middle" stroke="#231f20" textLength="7.20" lengthAdjust="spacingAndGlyphs">10</text>
<line x1="357.70" y1="376.13" x2="357.70" y2="421.00" stroke="#111" stroke-width="1.1"/>
<line x1="357.20" y1="420.70" x2="421.30" y2="420.70" stroke="#111" stroke-width="1.3"/>
<line x1="355.10" y1="420.50" x2="357.70" y2="420.50" stroke="#111" stroke-width="0.9"/>
<text x="351.40" y="422.80" font-size="6.6" text-anchor="end" stroke="#231f20" textLength="3.60" lengthAdjust="spacingAndGlyphs">0</text>
<line x1="355.10" y1="410.07" x2="357.70" y2="410.07" stroke="#111" stroke-width="0.9"/>
<text x="351.40" y="412.38" font-size="6.6" text-anchor="end" stroke="#231f20" textLength="7.10" lengthAdjust="spacingAndGlyphs">25</text>
<line x1="355.10" y1="399.65" x2="357.70" y2="399.65" stroke="#111" stroke-width="0.9"/>
<text x="351.40" y="401.95" font-size="6.6" text-anchor="end" stroke="#231f20" textLength="7.10" lengthAdjust="spacingAndGlyphs">50</text>
<line x1="355.10" y1="389.23" x2="357.70" y2="389.23" stroke="#111" stroke-width="0.9"/>
<text x="351.40" y="391.53" font-size="6.6" text-anchor="end" stroke="#231f20" textLength="7.10" lengthAdjust="spacingAndGlyphs">75</text>
<line x1="355.10" y1="378.80" x2="357.70" y2="378.80" stroke="#111" stroke-width="0.9"/>
<text x="351.40" y="381.10" font-size="6.6" text-anchor="end" stroke="#231f20" textLength="10.50" lengthAdjust="spacingAndGlyphs">100</text>
<text x="481.10" y="359.70" font-size="8.8" text-anchor="middle" stroke="#231f20" textLength="20.80" lengthAdjust="spacingAndGlyphs">AraC</text>
<text x="458.85" y="370.50" font-size="6.8" text-anchor="middle" stroke="#231f20" textLength="7.00" lengthAdjust="spacingAndGlyphs">94</text>
<rect x="454.10" y="379.22" width="9.50" height="18.76" fill="#2f4c7f"/>
<rect x="454.10" y="397.98" width="9.50" height="22.52" fill="#a50029"/>
<line x1="458.85" y1="420.50" x2="458.85" y2="423.10" stroke="#111" stroke-width="0.9"/>
<text x="458.85" y="433.00" font-size="7.0" text-anchor="middle" stroke="#231f20" textLength="3.60" lengthAdjust="spacingAndGlyphs">0</text>
<text x="473.45" y="370.50" font-size="6.8" text-anchor="middle" stroke="#231f20" textLength="7.00" lengthAdjust="spacingAndGlyphs">70</text>
<rect x="468.70" y="379.22" width="9.50" height="17.10" fill="#2f4c7f"/>
<rect x="468.70" y="396.31" width="9.50" height="24.19" fill="#a50029"/>
<line x1="473.45" y1="420.50" x2="473.45" y2="423.10" stroke="#111" stroke-width="0.9"/>
<text x="473.45" y="433.00" font-size="7.0" text-anchor="middle" stroke="#231f20" textLength="3.60" lengthAdjust="spacingAndGlyphs">3</text>
<text x="488.05" y="370.50" font-size="6.8" text-anchor="middle" stroke="#231f20" textLength="7.00" lengthAdjust="spacingAndGlyphs">64</text>
<rect x="483.30" y="379.22" width="9.50" height="10.84" fill="#2f4c7f"/>
<rect x="483.30" y="390.06" width="9.50" height="30.44" fill="#a50029"/>
<line x1="488.05" y1="420.50" x2="488.05" y2="423.10" stroke="#111" stroke-width="0.9"/>
<text x="488.05" y="433.00" font-size="7.0" text-anchor="middle" stroke="#231f20" textLength="3.60" lengthAdjust="spacingAndGlyphs">7</text>
<text x="502.65" y="370.50" font-size="6.8" text-anchor="middle" stroke="#231f20" textLength="7.00" lengthAdjust="spacingAndGlyphs">60</text>
<rect x="497.90" y="379.22" width="9.50" height="7.71" fill="#2f4c7f"/>
<rect x="497.90" y="386.93" width="9.50" height="33.57" fill="#a50029"/>
<line x1="502.65" y1="420.50" x2="502.65" y2="423.10" stroke="#111" stroke-width="0.9"/>
<text x="502.65" y="433.00" font-size="7.0" text-anchor="middle" stroke="#231f20" textLength="7.20" lengthAdjust="spacingAndGlyphs">10</text>
<line x1="448.80" y1="376.13" x2="448.80" y2="421.00" stroke="#111" stroke-width="1.1"/>
<line x1="448.30" y1="420.70" x2="512.40" y2="420.70" stroke="#111" stroke-width="1.3"/>
<line x1="446.20" y1="420.50" x2="448.80" y2="420.50" stroke="#111" stroke-width="0.9"/>
<text x="442.50" y="422.80" font-size="6.6" text-anchor="end" stroke="#231f20" textLength="3.60" lengthAdjust="spacingAndGlyphs">0</text>
<line x1="446.20" y1="410.07" x2="448.80" y2="410.07" stroke="#111" stroke-width="0.9"/>
<text x="442.50" y="412.38" font-size="6.6" text-anchor="end" stroke="#231f20" textLength="7.10" lengthAdjust="spacingAndGlyphs">25</text>
<line x1="446.20" y1="399.65" x2="448.80" y2="399.65" stroke="#111" stroke-width="0.9"/>
<text x="442.50" y="401.95" font-size="6.6" text-anchor="end" stroke="#231f20" textLength="7.10" lengthAdjust="spacingAndGlyphs">50</text>
<line x1="446.20" y1="389.23" x2="448.80" y2="389.23" stroke="#111" stroke-width="0.9"/>
<text x="442.50" y="391.53" font-size="6.6" text-anchor="end" stroke="#231f20" textLength="7.10" lengthAdjust="spacingAndGlyphs">75</text>
<line x1="446.20" y1="378.80" x2="448.80" y2="378.80" stroke="#111" stroke-width="0.9"/>
<text x="442.50" y="381.10" font-size="6.6" text-anchor="end" stroke="#231f20" textLength="10.50" lengthAdjust="spacingAndGlyphs">100</text>
<text x="298.80" y="466.00" font-size="8.8" text-anchor="middle" stroke="#231f20" textLength="18.60" lengthAdjust="spacingAndGlyphs">DEC</text>
<text x="276.95" y="476.80" font-size="6.8" text-anchor="middle" stroke="#231f20" textLength="7.00" lengthAdjust="spacingAndGlyphs">94</text>
<rect x="272.20" y="485.93" width="9.50" height="18.35" fill="#2f4c7f"/>
<rect x="272.20" y="504.28" width="9.50" height="22.52" fill="#a50029"/>
<line x1="276.95" y1="526.80" x2="276.95" y2="529.40" stroke="#111" stroke-width="0.9"/>
<text x="276.95" y="539.30" font-size="7.0" text-anchor="middle" stroke="#231f20" textLength="3.60" lengthAdjust="spacingAndGlyphs">0</text>
<text x="291.55" y="476.80" font-size="6.8" text-anchor="middle" stroke="#231f20" textLength="7.00" lengthAdjust="spacingAndGlyphs">59</text>
<rect x="286.80" y="485.93" width="9.50" height="14.18" fill="#2f4c7f"/>
<rect x="286.80" y="500.11" width="9.50" height="26.69" fill="#a50029"/>
<line x1="291.55" y1="526.80" x2="291.55" y2="529.40" stroke="#111" stroke-width="0.9"/>
<text x="291.55" y="539.30" font-size="7.0" text-anchor="middle" stroke="#231f20" textLength="3.60" lengthAdjust="spacingAndGlyphs">3</text>
<text x="306.15" y="476.80" font-size="6.8" text-anchor="middle" stroke="#231f20" textLength="7.00" lengthAdjust="spacingAndGlyphs">68</text>
<rect x="301.40" y="486.35" width="9.50" height="8.34" fill="#2f4c7f"/>
<rect x="301.40" y="494.69" width="9.50" height="32.11" fill="#a50029"/>
<line x1="306.15" y1="526.80" x2="306.15" y2="529.40" stroke="#111" stroke-width="0.9"/>
<text x="306.15" y="539.30" font-size="7.0" text-anchor="middle" stroke="#231f20" textLength="3.60" lengthAdjust="spacingAndGlyphs">7</text>
<text x="320.75" y="476.80" font-size="6.8" text-anchor="middle" stroke="#231f20" textLength="7.00" lengthAdjust="spacingAndGlyphs">42</text>
<rect x="316.00" y="486.77" width="9.50" height="7.09" fill="#2f4c7f"/>
<rect x="316.00" y="493.86" width="9.50" height="32.94" fill="#a50029"/>
<line x1="320.75" y1="526.80" x2="320.75" y2="529.40" stroke="#111" stroke-width="0.9"/>
<text x="320.75" y="539.30" font-size="7.0" text-anchor="middle" stroke="#231f20" textLength="7.20" lengthAdjust="spacingAndGlyphs">10</text>
<line x1="266.90" y1="482.43" x2="266.90" y2="527.30" stroke="#111" stroke-width="1.1"/>
<line x1="266.40" y1="527.00" x2="330.50" y2="527.00" stroke="#111" stroke-width="1.3"/>
<line x1="264.30" y1="526.80" x2="266.90" y2="526.80" stroke="#111" stroke-width="0.9"/>
<text x="260.60" y="529.10" font-size="6.6" text-anchor="end" stroke="#231f20" textLength="3.60" lengthAdjust="spacingAndGlyphs">0</text>
<line x1="264.30" y1="516.38" x2="266.90" y2="516.38" stroke="#111" stroke-width="0.9"/>
<text x="260.60" y="518.67" font-size="6.6" text-anchor="end" stroke="#231f20" textLength="7.10" lengthAdjust="spacingAndGlyphs">25</text>
<line x1="264.30" y1="505.95" x2="266.90" y2="505.95" stroke="#111" stroke-width="0.9"/>
<text x="260.60" y="508.25" font-size="6.6" text-anchor="end" stroke="#231f20" textLength="7.10" lengthAdjust="spacingAndGlyphs">50</text>
<line x1="264.30" y1="495.52" x2="266.90" y2="495.52" stroke="#111" stroke-width="0.9"/>
<text x="260.60" y="497.82" font-size="6.6" text-anchor="end" stroke="#231f20" textLength="7.10" lengthAdjust="spacingAndGlyphs">75</text>
<line x1="264.30" y1="485.10" x2="266.90" y2="485.10" stroke="#111" stroke-width="0.9"/>
<text x="260.60" y="487.40" font-size="6.6" text-anchor="end" stroke="#231f20" textLength="10.50" lengthAdjust="spacingAndGlyphs">100</text>
<text x="225.40" y="476.60" font-size="7.0" stroke="#231f20" textLength="35.80" lengthAdjust="spacingAndGlyphs">Viability (%)</text>
<text x="244.50" y="504.40" font-size="8.8" text-anchor="middle" stroke="#231f20" textLength="39.80" lengthAdjust="spacingAndGlyphs" transform="rotate(-90 244.50 504.40)">Live cells (%)</text>
<text x="389.40" y="466.00" font-size="8.8" text-anchor="middle" stroke="#231f20" textLength="49.30" lengthAdjust="spacingAndGlyphs">Ven + LDAC</text>
<text x="367.75" y="476.80" font-size="6.8" text-anchor="middle" stroke="#231f20" textLength="7.00" lengthAdjust="spacingAndGlyphs">94</text>
<rect x="363.00" y="485.93" width="9.50" height="18.97" fill="#2f4c7f"/>
<rect x="363.00" y="504.91" width="9.50" height="21.89" fill="#a50029"/>
<line x1="367.75" y1="526.80" x2="367.75" y2="529.40" stroke="#111" stroke-width="0.9"/>
<text x="367.75" y="539.30" font-size="7.0" text-anchor="middle" stroke="#231f20" textLength="3.60" lengthAdjust="spacingAndGlyphs">0</text>
<text x="382.35" y="476.80" font-size="6.8" text-anchor="middle" stroke="#231f20" textLength="7.00" lengthAdjust="spacingAndGlyphs">59</text>
<rect x="377.60" y="485.93" width="9.50" height="3.96" fill="#2f4c7f"/>
<rect x="377.60" y="489.90" width="9.50" height="36.90" fill="#a50029"/>
<line x1="382.35" y1="526.80" x2="382.35" y2="529.40" stroke="#111" stroke-width="0.9"/>
<text x="382.35" y="539.30" font-size="7.0" text-anchor="middle" stroke="#231f20" textLength="3.60" lengthAdjust="spacingAndGlyphs">3</text>
<text x="396.95" y="476.80" font-size="6.8" text-anchor="middle" stroke="#231f20" textLength="7.00" lengthAdjust="spacingAndGlyphs">41</text>
<rect x="392.20" y="485.93" width="9.50" height="0.42" fill="#2f4c7f"/>
<rect x="392.20" y="486.35" width="9.50" height="40.45" fill="#a50029"/>
<line x1="396.95" y1="526.80" x2="396.95" y2="529.40" stroke="#111" stroke-width="0.9"/>
<text x="396.95" y="539.30" font-size="7.0" text-anchor="middle" stroke="#231f20" textLength="3.60" lengthAdjust="spacingAndGlyphs">7</text>
<text x="411.55" y="476.80" font-size="6.8" text-anchor="middle" stroke="#231f20" textLength="7.00" lengthAdjust="spacingAndGlyphs">66</text>
<rect x="406.80" y="485.93" width="9.50" height="0.21" fill="#2f4c7f"/>
<rect x="406.80" y="486.14" width="9.50" height="40.66" fill="#a50029"/>
<line x1="411.55" y1="526.80" x2="411.55" y2="529.40" stroke="#111" stroke-width="0.9"/>
<text x="411.55" y="539.30" font-size="7.0" text-anchor="middle" stroke="#231f20" textLength="7.20" lengthAdjust="spacingAndGlyphs">10</text>
<line x1="357.70" y1="482.43" x2="357.70" y2="527.30" stroke="#111" stroke-width="1.1"/>
<line x1="357.20" y1="527.00" x2="421.30" y2="527.00" stroke="#111" stroke-width="1.3"/>
<line x1="355.10" y1="526.80" x2="357.70" y2="526.80" stroke="#111" stroke-width="0.9"/>
<text x="351.40" y="529.10" font-size="6.6" text-anchor="end" stroke="#231f20" textLength="3.60" lengthAdjust="spacingAndGlyphs">0</text>
<line x1="355.10" y1="516.38" x2="357.70" y2="516.38" stroke="#111" stroke-width="0.9"/>
<text x="351.40" y="518.67" font-size="6.6" text-anchor="end" stroke="#231f20" textLength="7.10" lengthAdjust="spacingAndGlyphs">25</text>
<line x1="355.10" y1="505.95" x2="357.70" y2="505.95" stroke="#111" stroke-width="0.9"/>
<text x="351.40" y="508.25" font-size="6.6" text-anchor="end" stroke="#231f20" textLength="7.10" lengthAdjust="spacingAndGlyphs">50</text>
<line x1="355.10" y1="495.52" x2="357.70" y2="495.52" stroke="#111" stroke-width="0.9"/>
<text x="351.40" y="497.82" font-size="6.6" text-anchor="end" stroke="#231f20" textLength="7.10" lengthAdjust="spacingAndGlyphs">75</text>
<line x1="355.10" y1="485.10" x2="357.70" y2="485.10" stroke="#111" stroke-width="0.9"/>
<text x="351.40" y="487.40" font-size="6.6" text-anchor="end" stroke="#231f20" textLength="10.50" lengthAdjust="spacingAndGlyphs">100</text>
<text x="480.50" y="466.00" font-size="8.8" text-anchor="middle" stroke="#231f20" textLength="43.90" lengthAdjust="spacingAndGlyphs">Ven + DEC</text>
<text x="459.75" y="476.80" font-size="6.8" text-anchor="middle" stroke="#231f20" textLength="7.00" lengthAdjust="spacingAndGlyphs">94</text>
<rect x="455.00" y="485.93" width="9.50" height="18.97" fill="#2f4c7f"/>
<rect x="455.00" y="504.91" width="9.50" height="21.89" fill="#a50029"/>
<line x1="459.75" y1="526.80" x2="459.75" y2="529.40" stroke="#111" stroke-width="0.9"/>
<text x="459.75" y="539.30" font-size="7.0" text-anchor="middle" stroke="#231f20" textLength="3.60" lengthAdjust="spacingAndGlyphs">0</text>
<text x="474.35" y="476.80" font-size="6.8" text-anchor="middle" stroke="#231f20" textLength="7.00" lengthAdjust="spacingAndGlyphs">31</text>
<rect x="469.60" y="485.93" width="9.50" height="1.88" fill="#2f4c7f"/>
<rect x="469.60" y="487.81" width="9.50" height="38.99" fill="#a50029"/>
<line x1="474.35" y1="526.80" x2="474.35" y2="529.40" stroke="#111" stroke-width="0.9"/>
<text x="474.35" y="539.30" font-size="7.0" text-anchor="middle" stroke="#231f20" textLength="3.60" lengthAdjust="spacingAndGlyphs">3</text>
<text x="488.95" y="476.80" font-size="6.8" text-anchor="middle" stroke="#231f20" textLength="7.00" lengthAdjust="spacingAndGlyphs">36</text>
<rect x="484.20" y="485.93" width="9.50" height="1.88" fill="#2f4c7f"/>
<rect x="484.20" y="487.81" width="9.50" height="38.99" fill="#a50029"/>
<line x1="488.95" y1="526.80" x2="488.95" y2="529.40" stroke="#111" stroke-width="0.9"/>
<text x="488.95" y="539.30" font-size="7.0" text-anchor="middle" stroke="#231f20" textLength="3.60" lengthAdjust="spacingAndGlyphs">7</text>
<text x="503.55" y="476.80" font-size="6.8" text-anchor="middle" stroke="#231f20" textLength="7.00" lengthAdjust="spacingAndGlyphs">27</text>
<rect x="498.80" y="485.93" width="9.50" height="2.92" fill="#2f4c7f"/>
<rect x="498.80" y="488.85" width="9.50" height="37.95" fill="#a50029"/>
<line x1="503.55" y1="526.80" x2="503.55" y2="529.40" stroke="#111" stroke-width="0.9"/>
<text x="503.55" y="539.30" font-size="7.0" text-anchor="middle" stroke="#231f20" textLength="7.20" lengthAdjust="spacingAndGlyphs">10</text>
<line x1="449.70" y1="482.43" x2="449.70" y2="527.30" stroke="#111" stroke-width="1.1"/>
<line x1="449.20" y1="527.00" x2="513.30" y2="527.00" stroke="#111" stroke-width="1.3"/>
<line x1="447.10" y1="526.80" x2="449.70" y2="526.80" stroke="#111" stroke-width="0.9"/>
<text x="443.40" y="529.10" font-size="6.6" text-anchor="end" stroke="#231f20" textLength="3.60" lengthAdjust="spacingAndGlyphs">0</text>
<line x1="447.10" y1="516.38" x2="449.70" y2="516.38" stroke="#111" stroke-width="0.9"/>
<text x="443.40" y="518.67" font-size="6.6" text-anchor="end" stroke="#231f20" textLength="7.10" lengthAdjust="spacingAndGlyphs">25</text>
<line x1="447.10" y1="505.95" x2="449.70" y2="505.95" stroke="#111" stroke-width="0.9"/>
<text x="443.40" y="508.25" font-size="6.6" text-anchor="end" stroke="#231f20" textLength="7.10" lengthAdjust="spacingAndGlyphs">50</text>
<line x1="447.10" y1="495.52" x2="449.70" y2="495.52" stroke="#111" stroke-width="0.9"/>
<text x="443.40" y="497.82" font-size="6.6" text-anchor="end" stroke="#231f20" textLength="7.10" lengthAdjust="spacingAndGlyphs">75</text>
<line x1="447.10" y1="485.10" x2="449.70" y2="485.10" stroke="#111" stroke-width="0.9"/>
<text x="443.40" y="487.40" font-size="6.6" text-anchor="end" stroke="#231f20" textLength="10.50" lengthAdjust="spacingAndGlyphs">100</text>
<line x1="267.00" y1="442.60" x2="334.80" y2="442.60" stroke="#5a5a5a" stroke-width="1.6"/>
<text x="343.50" y="445.60" font-size="8.8" stroke="#231f20" textLength="57.40" lengthAdjust="spacingAndGlyphs">Days on treatment</text>
<line x1="412.20" y1="442.60" x2="504.50" y2="442.60" stroke="#6a6a6a" stroke-width="1.6"/>
<path d="M503.1,439.30 L510.4,442.60 L503.1,445.90 L504.6,442.60 Z" fill="#000"/>
<line x1="267.00" y1="549.30" x2="334.80" y2="549.30" stroke="#5a5a5a" stroke-width="1.6"/>
<text x="343.50" y="552.30" font-size="8.8" stroke="#231f20" textLength="57.40" lengthAdjust="spacingAndGlyphs">Days on treatment</text>
<line x1="412.20" y1="549.30" x2="504.50" y2="549.30" stroke="#6a6a6a" stroke-width="1.6"/>
<path d="M503.1,546.00 L510.4,549.30 L503.1,552.60 L504.6,549.30 Z" fill="#000"/>
<text x="323.00" y="565.00" font-size="8.6" fill="#2f4c7f" stroke="#2f4c7f" textLength="10.00" lengthAdjust="spacingAndGlyphs">WT</text>
<text x="410.00" y="565.00" font-size="8.6" fill="#b3103f" stroke="#b3103f" textLength="15.70" lengthAdjust="spacingAndGlyphs">TP53</text>
<text x="8.00" y="593.60" font-size="12" fill="#000" stroke="#000" stroke-width="0.55" font-weight="bold" textLength="8.90" lengthAdjust="spacingAndGlyphs">G</text>
<text x="76.20" y="595.00" font-size="9.2" text-anchor="middle" stroke="#231f20" textLength="44.40" lengthAdjust="spacingAndGlyphs">Venetoclax</text>
<line x1="38.50" y1="600.60" x2="38.50" y2="673.70" stroke="#111" stroke-width="1.1"/>
<line x1="38.00" y1="673.20" x2="113.10" y2="673.20" stroke="#111" stroke-width="1.1"/>
<line x1="35.30" y1="673.20" x2="38.50" y2="673.20" stroke="#111" stroke-width="0.9"/>
<text x="32.20" y="675.60" font-size="6.8" text-anchor="end" stroke="#231f20" textLength="3.70" lengthAdjust="spacingAndGlyphs">0</text>
<line x1="35.30" y1="661.58" x2="38.50" y2="661.58" stroke="#111" stroke-width="0.9"/>
<text x="32.20" y="663.98" font-size="6.8" text-anchor="end" stroke="#231f20" textLength="7.40" lengthAdjust="spacingAndGlyphs">20</text>
<line x1="35.30" y1="649.96" x2="38.50" y2="649.96" stroke="#111" stroke-width="0.9"/>
<text x="32.20" y="652.36" font-size="6.8" text-anchor="end" stroke="#231f20" textLength="7.40" lengthAdjust="spacingAndGlyphs">40</text>
<line x1="35.30" y1="638.34" x2="38.50" y2="638.34" stroke="#111" stroke-width="0.9"/>
<text x="32.20" y="640.74" font-size="6.8" text-anchor="end" stroke="#231f20" textLength="7.40" lengthAdjust="spacingAndGlyphs">60</text>
<line x1="35.30" y1="626.72" x2="38.50" y2="626.72" stroke="#111" stroke-width="0.9"/>
<text x="32.20" y="629.12" font-size="6.8" text-anchor="end" stroke="#231f20" textLength="7.40" lengthAdjust="spacingAndGlyphs">80</text>
<line x1="35.30" y1="615.10" x2="38.50" y2="615.10" stroke="#111" stroke-width="0.9"/>
<text x="32.20" y="617.50" font-size="6.8" text-anchor="end" stroke="#231f20" textLength="11.00" lengthAdjust="spacingAndGlyphs">100</text>
<line x1="35.30" y1="603.48" x2="38.50" y2="603.48" stroke="#111" stroke-width="0.9"/>
<text x="32.20" y="605.88" font-size="6.8" text-anchor="end" stroke="#231f20" textLength="11.00" lengthAdjust="spacingAndGlyphs">120</text>
<line x1="38.50" y1="673.20" x2="38.50" y2="676.10" stroke="#111" stroke-width="0.9"/>
<text x="35.00" y="685.80" font-size="7.8" stroke="#231f20" textLength="6.00" lengthAdjust="spacingAndGlyphs">10</text>
<text x="41.40" y="682.60" font-size="4.4" stroke="#231f20" textLength="2.20" lengthAdjust="spacingAndGlyphs">0</text>
<line x1="56.40" y1="673.20" x2="56.40" y2="676.10" stroke="#111" stroke-width="0.9"/>
<text x="52.90" y="685.80" font-size="7.8" stroke="#231f20" textLength="6.00" lengthAdjust="spacingAndGlyphs">10</text>
<text x="59.30" y="682.60" font-size="4.4" stroke="#231f20" textLength="2.20" lengthAdjust="spacingAndGlyphs">1</text>
<line x1="74.30" y1="673.20" x2="74.30" y2="676.10" stroke="#111" stroke-width="0.9"/>
<text x="70.80" y="685.80" font-size="7.8" stroke="#231f20" textLength="6.00" lengthAdjust="spacingAndGlyphs">10</text>
<text x="77.20" y="682.60" font-size="4.4" stroke="#231f20" textLength="2.20" lengthAdjust="spacingAndGlyphs">2</text>
<line x1="92.20" y1="673.20" x2="92.20" y2="676.10" stroke="#111" stroke-width="0.9"/>
<text x="88.70" y="685.80" font-size="7.8" stroke="#231f20" textLength="6.00" lengthAdjust="spacingAndGlyphs">10</text>
<text x="95.10" y="682.60" font-size="4.4" stroke="#231f20" textLength="2.20" lengthAdjust="spacingAndGlyphs">3</text>
<line x1="110.10" y1="673.20" x2="110.10" y2="676.10" stroke="#111" stroke-width="0.9"/>
<text x="106.60" y="685.80" font-size="7.8" stroke="#231f20" textLength="6.00" lengthAdjust="spacingAndGlyphs">10</text>
<text x="113.00" y="682.60" font-size="4.4" stroke="#231f20" textLength="2.20" lengthAdjust="spacingAndGlyphs">4</text>
<text x="75.70" y="698.00" font-size="8.6" text-anchor="middle" stroke="#231f20" textLength="82.30" lengthAdjust="spacingAndGlyphs">Concentration of Ven (nM)</text>
<text x="15.60" y="636.70" font-size="9.2" text-anchor="middle" stroke="#231f20" textLength="41.80" lengthAdjust="spacingAndGlyphs" transform="rotate(-90 15.60 636.70)">% viable cells</text>
<line x1="39.30" y1="644.4" x2="112.90" y2="644.4" stroke="#111" stroke-width="1" stroke-dasharray="1 1.3"/>
<polyline points="46.40,615.55 47.25,615.61 48.10,615.67 48.95,615.73 49.80,615.81 50.65,615.89 51.50,615.99 52.35,616.09 53.20,616.21 54.05,616.34 54.90,616.48 55.75,616.65 56.60,616.83 57.45,617.03 58.30,617.25 59.15,617.50 60.00,617.77 60.85,618.08 61.70,618.42 62.55,618.79 63.40,619.20 64.25,619.66 65.10,620.16 65.95,620.71 66.80,621.31 67.65,621.97 68.50,622.68 69.35,623.46 70.20,624.31 71.05,625.22 71.90,626.21 72.75,627.26 73.60,628.39 74.45,629.59 75.30,630.86 76.15,632.20 77.00,633.60 77.85,635.06 78.70,636.57 79.55,638.13 80.40,639.72 81.25,641.35 82.10,642.99 82.95,644.63 83.80,646.28 84.65,647.91 85.50,649.52 86.35,651.09 87.20,652.63 88.05,654.11 88.90,655.53 89.75,656.90 90.60,658.20 91.45,659.42 92.30,660.58 93.15,661.67 94.00,662.68 94.85,663.62 95.70,664.50 96.55,665.30 97.40,666.05" fill="none" stroke="#3f8f3f" stroke-width="0.8" stroke-linejoin="round"/>
<polyline points="46.40,615.12 47.25,615.13 48.10,615.13 48.95,615.14 49.80,615.14 50.65,615.15 51.50,615.16 52.35,615.17 53.20,615.18 54.05,615.19 54.90,615.21 55.75,615.23 56.60,615.25 57.45,615.27 58.30,615.30 59.15,615.33 60.00,615.37 60.85,615.42 61.70,615.47 62.55,615.53 63.40,615.60 64.25,615.68 65.10,615.78 65.95,615.89 66.80,616.02 67.65,616.17 68.50,616.34 69.35,616.54 70.20,616.78 71.05,617.05 71.90,617.36 72.75,617.72 73.60,618.13 74.45,618.61 75.30,619.15 76.15,619.77 77.00,620.48 77.85,621.28 78.70,622.18 79.55,623.19 80.40,624.33 81.25,625.59 82.10,626.97 82.95,628.50 83.80,630.15 84.65,631.93 85.50,633.83 86.35,635.83 87.20,637.93 88.05,640.10 88.90,642.31 89.75,644.54 90.60,646.77 91.45,648.97 92.30,651.12 93.15,653.18 94.00,655.15 94.85,657.01 95.70,658.75 96.55,660.36 97.40,661.83" fill="none" stroke="#8e2c8f" stroke-width="0.8" stroke-linejoin="round"/>
<line x1="46.40" y1="609.70" x2="46.40" y2="633.30" stroke="#7fb47f" stroke-width="1.1"/>
<line x1="45.50" y1="609.70" x2="47.30" y2="609.70" stroke="#7fb47f" stroke-width="0.8"/>
<line x1="45.50" y1="633.30" x2="47.30" y2="633.30" stroke="#7fb47f" stroke-width="0.8"/>
<line x1="54.90" y1="612.10" x2="54.90" y2="626.40" stroke="#7fb47f" stroke-width="1.1"/>
<line x1="54.00" y1="612.10" x2="55.80" y2="612.10" stroke="#7fb47f" stroke-width="0.8"/>
<line x1="54.00" y1="626.40" x2="55.80" y2="626.40" stroke="#7fb47f" stroke-width="0.8"/>
<line x1="63.40" y1="616.90" x2="63.40" y2="633.30" stroke="#7fb47f" stroke-width="1.1"/>
<line x1="62.50" y1="616.90" x2="64.30" y2="616.90" stroke="#7fb47f" stroke-width="0.8"/>
<line x1="62.50" y1="633.30" x2="64.30" y2="633.30" stroke="#7fb47f" stroke-width="0.8"/>
<line x1="71.90" y1="623.80" x2="71.90" y2="631.60" stroke="#7fb47f" stroke-width="1.1"/>
<line x1="71.00" y1="623.80" x2="72.80" y2="623.80" stroke="#7fb47f" stroke-width="0.8"/>
<line x1="71.00" y1="631.60" x2="72.80" y2="631.60" stroke="#7fb47f" stroke-width="0.8"/>
<line x1="80.40" y1="626.80" x2="80.40" y2="636.30" stroke="#7fb47f" stroke-width="1.1"/>
<line x1="79.50" y1="626.80" x2="81.30" y2="626.80" stroke="#7fb47f" stroke-width="0.8"/>
<line x1="79.50" y1="636.30" x2="81.30" y2="636.30" stroke="#7fb47f" stroke-width="0.8"/>
<line x1="88.90" y1="657.50" x2="88.90" y2="661.20" stroke="#7fb47f" stroke-width="1.1"/>
<line x1="88.00" y1="657.50" x2="89.80" y2="657.50" stroke="#7fb47f" stroke-width="0.8"/>
<line x1="88.00" y1="661.20" x2="89.80" y2="661.20" stroke="#7fb47f" stroke-width="0.8"/>
<line x1="54.90" y1="617.00" x2="54.90" y2="624.50" stroke="#b77bb8" stroke-width="1.1"/>
<line x1="54.00" y1="617.00" x2="55.80" y2="617.00" stroke="#b77bb8" stroke-width="0.8"/>
<line x1="54.00" y1="624.50" x2="55.80" y2="624.50" stroke="#b77bb8" stroke-width="0.8"/>
<line x1="63.40" y1="617.00" x2="63.40" y2="625.00" stroke="#b77bb8" stroke-width="1.1"/>
<line x1="62.50" y1="617.00" x2="64.30" y2="617.00" stroke="#b77bb8" stroke-width="0.8"/>
<line x1="62.50" y1="625.00" x2="64.30" y2="625.00" stroke="#b77bb8" stroke-width="0.8"/>
<line x1="71.90" y1="617.30" x2="71.90" y2="619.90" stroke="#b77bb8" stroke-width="1.1"/>
<line x1="71.00" y1="617.30" x2="72.80" y2="617.30" stroke="#b77bb8" stroke-width="0.8"/>
<line x1="71.00" y1="619.90" x2="72.80" y2="619.90" stroke="#b77bb8" stroke-width="0.8"/>
<line x1="80.40" y1="619.00" x2="80.40" y2="627.70" stroke="#b77bb8" stroke-width="1.1"/>
<line x1="79.50" y1="619.00" x2="81.30" y2="619.00" stroke="#b77bb8" stroke-width="0.8"/>
<line x1="79.50" y1="627.70" x2="81.30" y2="627.70" stroke="#b77bb8" stroke-width="0.8"/>
<line x1="88.90" y1="634.70" x2="88.90" y2="649.60" stroke="#b77bb8" stroke-width="1.1"/>
<line x1="88.00" y1="634.70" x2="89.80" y2="634.70" stroke="#b77bb8" stroke-width="0.8"/>
<line x1="88.00" y1="649.60" x2="89.80" y2="649.60" stroke="#b77bb8" stroke-width="0.8"/>
<line x1="97.40" y1="657.80" x2="97.40" y2="662.70" stroke="#b77bb8" stroke-width="1.1"/>
<line x1="96.50" y1="657.80" x2="98.30" y2="657.80" stroke="#b77bb8" stroke-width="0.8"/>
<line x1="96.50" y1="662.70" x2="98.30" y2="662.70" stroke="#b77bb8" stroke-width="0.8"/>
<circle cx="46.40" cy="621.80" r="1.1" fill="#3f8f3f"/>
<circle cx="54.90" cy="619.50" r="1.1" fill="#3f8f3f"/>
<circle cx="63.40" cy="627.00" r="1.1" fill="#3f8f3f"/>
<circle cx="71.90" cy="627.50" r="1.1" fill="#3f8f3f"/>
<circle cx="80.40" cy="632.20" r="1.1" fill="#3f8f3f"/>
<circle cx="88.90" cy="659.30" r="1.1" fill="#3f8f3f"/>
<circle cx="97.40" cy="671.20" r="1.1" fill="#3f8f3f"/>
<circle cx="46.40" cy="622.00" r="1.1" fill="#8e2c8f"/>
<circle cx="54.90" cy="620.90" r="1.1" fill="#8e2c8f"/>
<circle cx="63.40" cy="621.20" r="1.1" fill="#8e2c8f"/>
<circle cx="71.90" cy="618.30" r="1.1" fill="#8e2c8f"/>
<circle cx="80.40" cy="623.40" r="1.1" fill="#8e2c8f"/>
<circle cx="88.90" cy="641.90" r="1.1" fill="#8e2c8f"/>
<circle cx="97.40" cy="661.50" r="1.1" fill="#8e2c8f"/>
<line x1="113.10" y1="614.90" x2="119.70" y2="614.90" stroke="#3f8f3f" stroke-width="1.1"/>
<circle cx="116.40" cy="614.90" r="0.9" fill="#3f8f3f"/>
<text x="123.00" y="617.40" font-size="7.2" fill="#333" stroke="#333" font-style="italic" textLength="11.70" lengthAdjust="spacingAndGlyphs">p53</text>
<text x="134.80" y="614.10" font-size="4.0" fill="#333" stroke="#333" font-style="italic" textLength="5.80" lengthAdjust="spacingAndGlyphs">WT</text>
<line x1="113.10" y1="623.60" x2="119.70" y2="623.60" stroke="#8e2c8f" stroke-width="1.1"/>
<circle cx="116.40" cy="623.60" r="0.9" fill="#8e2c8f"/>
<text x="123.00" y="626.10" font-size="7.2" fill="#333" stroke="#333" font-style="italic" textLength="11.70" lengthAdjust="spacingAndGlyphs">p53</text>
<text x="134.80" y="622.80" font-size="4.0" fill="#333" stroke="#333" font-style="italic" textLength="12.00" lengthAdjust="spacingAndGlyphs">R172H</text>
<rect x="113.00" y="635.90" width="45.50" height="17.60" fill="none" stroke="#111" stroke-width="1.1"/>
<line x1="113.00" y1="644.60" x2="158.50" y2="644.60" stroke="#111" stroke-width="1.0"/>
<line x1="132.50" y1="635.90" x2="132.50" y2="653.50" stroke="#111" stroke-width="1.0"/>
<text x="114.80" y="642.30" font-size="6.0" stroke="#231f20" font-style="italic" textLength="9.30" lengthAdjust="spacingAndGlyphs">p53</text>
<text x="124.20" y="640.00" font-size="3.2" stroke="#231f20" font-style="italic" textLength="4.00" lengthAdjust="spacingAndGlyphs">WT</text>
<text x="134.30" y="642.30" font-size="6.0" stroke="#231f20" font-style="italic" textLength="9.30" lengthAdjust="spacingAndGlyphs">p53</text>
<text x="143.70" y="640.00" font-size="3.2" stroke="#231f20" font-style="italic" textLength="8.50" lengthAdjust="spacingAndGlyphs">R172H</text>
<text x="114.60" y="651.30" font-size="6.6" stroke="#231f20" textLength="15.60" lengthAdjust="spacingAndGlyphs">295.4</text>
<text x="134.10" y="651.30" font-size="6.6" stroke="#231f20" textLength="15.60" lengthAdjust="spacingAndGlyphs">742.3</text>
<text x="175.50" y="593.60" font-size="12" fill="#000" stroke="#000" stroke-width="0.55" font-weight="bold" textLength="7.50" lengthAdjust="spacingAndGlyphs">H</text>
<text x="242.75" y="595.00" font-size="9.2" text-anchor="middle" stroke="#231f20" textLength="82.00" lengthAdjust="spacingAndGlyphs">Ven + Aza (1000nM)</text>
<line x1="205.40" y1="600.60" x2="205.40" y2="673.70" stroke="#111" stroke-width="1.1"/>
<line x1="204.90" y1="673.20" x2="280.00" y2="673.20" stroke="#111" stroke-width="1.1"/>
<line x1="202.20" y1="673.20" x2="205.40" y2="673.20" stroke="#111" stroke-width="0.9"/>
<text x="199.10" y="675.60" font-size="6.8" text-anchor="end" stroke="#231f20" textLength="3.70" lengthAdjust="spacingAndGlyphs">0</text>
<line x1="202.20" y1="661.58" x2="205.40" y2="661.58" stroke="#111" stroke-width="0.9"/>
<text x="199.10" y="663.98" font-size="6.8" text-anchor="end" stroke="#231f20" textLength="7.40" lengthAdjust="spacingAndGlyphs">20</text>
<line x1="202.20" y1="649.96" x2="205.40" y2="649.96" stroke="#111" stroke-width="0.9"/>
<text x="199.10" y="652.36" font-size="6.8" text-anchor="end" stroke="#231f20" textLength="7.40" lengthAdjust="spacingAndGlyphs">40</text>
<line x1="202.20" y1="638.34" x2="205.40" y2="638.34" stroke="#111" stroke-width="0.9"/>
<text x="199.10" y="640.74" font-size="6.8" text-anchor="end" stroke="#231f20" textLength="7.40" lengthAdjust="spacingAndGlyphs">60</text>
<line x1="202.20" y1="626.72" x2="205.40" y2="626.72" stroke="#111" stroke-width="0.9"/>
<text x="199.10" y="629.12" font-size="6.8" text-anchor="end" stroke="#231f20" textLength="7.40" lengthAdjust="spacingAndGlyphs">80</text>
<line x1="202.20" y1="615.10" x2="205.40" y2="615.10" stroke="#111" stroke-width="0.9"/>
<text x="199.10" y="617.50" font-size="6.8" text-anchor="end" stroke="#231f20" textLength="11.00" lengthAdjust="spacingAndGlyphs">100</text>
<line x1="202.20" y1="603.48" x2="205.40" y2="603.48" stroke="#111" stroke-width="0.9"/>
<text x="199.10" y="605.88" font-size="6.8" text-anchor="end" stroke="#231f20" textLength="11.00" lengthAdjust="spacingAndGlyphs">120</text>
<line x1="205.40" y1="673.20" x2="205.40" y2="676.10" stroke="#111" stroke-width="0.9"/>
<text x="201.90" y="685.80" font-size="7.8" stroke="#231f20" textLength="6.00" lengthAdjust="spacingAndGlyphs">10</text>
<text x="208.30" y="682.60" font-size="4.4" stroke="#231f20" textLength="2.20" lengthAdjust="spacingAndGlyphs">0</text>
<line x1="223.30" y1="673.20" x2="223.30" y2="676.10" stroke="#111" stroke-width="0.9"/>
<text x="219.80" y="685.80" font-size="7.8" stroke="#231f20" textLength="6.00" lengthAdjust="spacingAndGlyphs">10</text>
<text x="226.20" y="682.60" font-size="4.4" stroke="#231f20" textLength="2.20" lengthAdjust="spacingAndGlyphs">1</text>
<line x1="241.20" y1="673.20" x2="241.20" y2="676.10" stroke="#111" stroke-width="0.9"/>
<text x="237.70" y="685.80" font-size="7.8" stroke="#231f20" textLength="6.00" lengthAdjust="spacingAndGlyphs">10</text>
<text x="244.10" y="682.60" font-size="4.4" stroke="#231f20" textLength="2.20" lengthAdjust="spacingAndGlyphs">2</text>
<line x1="259.10" y1="673.20" x2="259.10" y2="676.10" stroke="#111" stroke-width="0.9"/>
<text x="255.60" y="685.80" font-size="7.8" stroke="#231f20" textLength="6.00" lengthAdjust="spacingAndGlyphs">10</text>
<text x="262.00" y="682.60" font-size="4.4" stroke="#231f20" textLength="2.20" lengthAdjust="spacingAndGlyphs">3</text>
<line x1="277.00" y1="673.20" x2="277.00" y2="676.10" stroke="#111" stroke-width="0.9"/>
<text x="273.50" y="685.80" font-size="7.8" stroke="#231f20" textLength="6.00" lengthAdjust="spacingAndGlyphs">10</text>
<text x="279.90" y="682.60" font-size="4.4" stroke="#231f20" textLength="2.20" lengthAdjust="spacingAndGlyphs">4</text>
<text x="242.60" y="698.00" font-size="8.6" text-anchor="middle" stroke="#231f20" textLength="82.30" lengthAdjust="spacingAndGlyphs">Concentration of Ven (nM)</text>
<text x="182.50" y="636.70" font-size="9.2" text-anchor="middle" stroke="#231f20" textLength="41.80" lengthAdjust="spacingAndGlyphs" transform="rotate(-90 182.50 636.70)">% viable cells</text>
<line x1="206.20" y1="644.4" x2="279.80" y2="644.4" stroke="#111" stroke-width="1" stroke-dasharray="1 1.3"/>
<polyline points="213.30,624.31 214.15,624.74 215.00,625.19 215.85,625.65 216.70,626.13 217.55,626.63 218.40,627.15 219.25,627.68 220.10,628.23 220.95,628.79 221.80,629.37 222.65,629.97 223.50,630.59 224.35,631.22 225.20,631.86 226.05,632.52 226.90,633.20 227.75,633.89 228.60,634.59 229.45,635.31 230.30,636.04 231.15,636.78 232.00,637.53 232.85,638.29 233.70,639.05 234.55,639.83 235.40,640.61 236.25,641.40 237.10,642.19 237.95,642.98 238.80,643.78 239.65,644.57 240.50,645.37 241.35,646.16 242.20,646.95 243.05,647.74 243.90,648.52 244.75,649.29 245.60,650.06 246.45,650.82 247.30,651.57 248.15,652.31 249.00,653.03 249.85,653.75 250.70,654.45 251.55,655.14 252.40,655.82 253.25,656.48 254.10,657.12 254.95,657.75 255.80,658.36 256.65,658.96 257.50,659.54 258.35,660.11 259.20,660.65 260.05,661.18 260.90,661.70 261.75,662.20 262.60,662.68 263.45,663.14 264.30,663.59" fill="none" stroke="#3f8f3f" stroke-width="0.8" stroke-linejoin="round"/>
<polyline points="213.30,615.10 214.15,615.10 215.00,615.10 215.85,615.10 216.70,615.10 217.55,615.10 218.40,615.10 219.25,615.10 220.10,615.10 220.95,615.10 221.80,615.10 222.65,615.10 223.50,615.11 224.35,615.11 225.20,615.11 226.05,615.11 226.90,615.12 227.75,615.12 228.60,615.12 229.45,615.13 230.30,615.14 231.15,615.15 232.00,615.16 232.85,615.17 233.70,615.19 234.55,615.22 235.40,615.25 236.25,615.28 237.10,615.33 237.95,615.39 238.80,615.46 239.65,615.55 240.50,615.66 241.35,615.80 242.20,615.97 243.05,616.19 243.90,616.46 244.75,616.79 245.60,617.20 246.45,617.71 247.30,618.33 248.15,619.09 249.00,620.01 249.85,621.12 250.70,622.44 251.55,624.01 252.40,625.85 253.25,627.96 254.10,630.35 254.95,633.02 255.80,635.92 256.65,639.01 257.50,642.23 258.35,645.50 259.20,648.73 260.05,651.85 260.90,654.79 261.75,657.49 262.60,659.94 263.45,662.10 264.30,663.98" fill="none" stroke="#8e2c8f" stroke-width="0.8" stroke-linejoin="round"/>
<line x1="213.30" y1="622.30" x2="213.30" y2="635.80" stroke="#7fb47f" stroke-width="1.1"/>
<line x1="212.40" y1="622.30" x2="214.20" y2="622.30" stroke="#7fb47f" stroke-width="0.8"/>
<line x1="212.40" y1="635.80" x2="214.20" y2="635.80" stroke="#7fb47f" stroke-width="0.8"/>
<line x1="221.80" y1="625.00" x2="221.80" y2="633.00" stroke="#7fb47f" stroke-width="1.1"/>
<line x1="220.90" y1="625.00" x2="222.70" y2="625.00" stroke="#7fb47f" stroke-width="0.8"/>
<line x1="220.90" y1="633.00" x2="222.70" y2="633.00" stroke="#7fb47f" stroke-width="0.8"/>
<line x1="230.30" y1="631.00" x2="230.30" y2="638.50" stroke="#7fb47f" stroke-width="1.1"/>
<line x1="229.40" y1="631.00" x2="231.20" y2="631.00" stroke="#7fb47f" stroke-width="0.8"/>
<line x1="229.40" y1="638.50" x2="231.20" y2="638.50" stroke="#7fb47f" stroke-width="0.8"/>
<line x1="238.80" y1="633.50" x2="238.80" y2="642.00" stroke="#7fb47f" stroke-width="1.1"/>
<line x1="237.90" y1="633.50" x2="239.70" y2="633.50" stroke="#7fb47f" stroke-width="0.8"/>
<line x1="237.90" y1="642.00" x2="239.70" y2="642.00" stroke="#7fb47f" stroke-width="0.8"/>
<line x1="255.80" y1="658.00" x2="255.80" y2="662.00" stroke="#7fb47f" stroke-width="1.1"/>
<line x1="254.90" y1="658.00" x2="256.70" y2="658.00" stroke="#7fb47f" stroke-width="0.8"/>
<line x1="254.90" y1="662.00" x2="256.70" y2="662.00" stroke="#7fb47f" stroke-width="0.8"/>
<line x1="213.30" y1="612.10" x2="213.30" y2="620.80" stroke="#b77bb8" stroke-width="1.1"/>
<line x1="212.40" y1="612.10" x2="214.20" y2="612.10" stroke="#b77bb8" stroke-width="0.8"/>
<line x1="212.40" y1="620.80" x2="214.20" y2="620.80" stroke="#b77bb8" stroke-width="0.8"/>
<line x1="221.80" y1="608.40" x2="221.80" y2="624.50" stroke="#b77bb8" stroke-width="1.1"/>
<line x1="220.90" y1="608.40" x2="222.70" y2="608.40" stroke="#b77bb8" stroke-width="0.8"/>
<line x1="220.90" y1="624.50" x2="222.70" y2="624.50" stroke="#b77bb8" stroke-width="0.8"/>
<line x1="238.80" y1="612.00" x2="238.80" y2="616.00" stroke="#b77bb8" stroke-width="1.1"/>
<line x1="237.90" y1="612.00" x2="239.70" y2="612.00" stroke="#b77bb8" stroke-width="0.8"/>
<line x1="237.90" y1="616.00" x2="239.70" y2="616.00" stroke="#b77bb8" stroke-width="0.8"/>
<line x1="247.30" y1="620.50" x2="247.30" y2="626.00" stroke="#b77bb8" stroke-width="1.1"/>
<line x1="246.40" y1="620.50" x2="248.20" y2="620.50" stroke="#b77bb8" stroke-width="0.8"/>
<line x1="246.40" y1="626.00" x2="248.20" y2="626.00" stroke="#b77bb8" stroke-width="0.8"/>
<circle cx="213.30" cy="628.70" r="1.1" fill="#3f8f3f"/>
<circle cx="221.80" cy="629.00" r="1.1" fill="#3f8f3f"/>
<circle cx="230.30" cy="634.80" r="1.1" fill="#3f8f3f"/>
<circle cx="238.80" cy="638.00" r="1.1" fill="#3f8f3f"/>
<circle cx="247.30" cy="646.30" r="1.1" fill="#3f8f3f"/>
<circle cx="255.80" cy="659.80" r="1.1" fill="#3f8f3f"/>
<circle cx="264.30" cy="673.00" r="1.1" fill="#3f8f3f"/>
<circle cx="213.30" cy="617.90" r="1.1" fill="#8e2c8f"/>
<circle cx="221.80" cy="616.20" r="1.1" fill="#8e2c8f"/>
<circle cx="230.30" cy="614.60" r="1.1" fill="#8e2c8f"/>
<circle cx="238.80" cy="614.00" r="1.1" fill="#8e2c8f"/>
<circle cx="247.30" cy="623.30" r="1.1" fill="#8e2c8f"/>
<circle cx="255.80" cy="635.20" r="1.1" fill="#8e2c8f"/>
<circle cx="264.30" cy="662.70" r="1.1" fill="#8e2c8f"/>
<line x1="280.00" y1="614.90" x2="286.60" y2="614.90" stroke="#3f8f3f" stroke-width="1.1"/>
<circle cx="283.30" cy="614.90" r="0.9" fill="#3f8f3f"/>
<text x="289.90" y="617.40" font-size="7.2" fill="#333" stroke="#333" font-style="italic" textLength="11.70" lengthAdjust="spacingAndGlyphs">p53</text>
<text x="301.70" y="614.10" font-size="4.0" fill="#333" stroke="#333" font-style="italic" textLength="5.80" lengthAdjust="spacingAndGlyphs">WT</text>
<line x1="280.00" y1="623.60" x2="286.60" y2="623.60" stroke="#8e2c8f" stroke-width="1.1"/>
<circle cx="283.30" cy="623.60" r="0.9" fill="#8e2c8f"/>
<text x="289.90" y="626.10" font-size="7.2" fill="#333" stroke="#333" font-style="italic" textLength="11.70" lengthAdjust="spacingAndGlyphs">p53</text>
<text x="301.70" y="622.80" font-size="4.0" fill="#333" stroke="#333" font-style="italic" textLength="12.00" lengthAdjust="spacingAndGlyphs">R172H</text>
<rect x="279.90" y="635.90" width="45.50" height="17.60" fill="none" stroke="#111" stroke-width="1.1"/>
<line x1="279.90" y1="644.60" x2="325.40" y2="644.60" stroke="#111" stroke-width="1.0"/>
<line x1="299.40" y1="635.90" x2="299.40" y2="653.50" stroke="#111" stroke-width="1.0"/>
<text x="281.70" y="642.30" font-size="6.0" stroke="#231f20" font-style="italic" textLength="9.30" lengthAdjust="spacingAndGlyphs">p53</text>
<text x="291.10" y="640.00" font-size="3.2" stroke="#231f20" font-style="italic" textLength="4.00" lengthAdjust="spacingAndGlyphs">WT</text>
<text x="301.20" y="642.30" font-size="6.0" stroke="#231f20" font-style="italic" textLength="9.30" lengthAdjust="spacingAndGlyphs">p53</text>
<text x="310.60" y="640.00" font-size="3.2" stroke="#231f20" font-style="italic" textLength="8.50" lengthAdjust="spacingAndGlyphs">R172H</text>
<text x="281.50" y="651.30" font-size="6.6" stroke="#231f20" textLength="15.60" lengthAdjust="spacingAndGlyphs">88.52</text>
<text x="301.00" y="651.30" font-size="6.6" stroke="#231f20" textLength="9.40" lengthAdjust="spacingAndGlyphs">914</text>
<text x="342.00" y="593.60" font-size="12" fill="#000" stroke="#000" stroke-width="0.55" font-weight="bold">I</text>
<text x="409.62" y="595.00" font-size="9.2" text-anchor="middle" stroke="#231f20" textLength="81.75" lengthAdjust="spacingAndGlyphs">Ven + LDAC (20nM)</text>
<line x1="372.10" y1="600.60" x2="372.10" y2="673.70" stroke="#111" stroke-width="1.1"/>
<line x1="371.60" y1="673.20" x2="446.70" y2="673.20" stroke="#111" stroke-width="1.1"/>
<line x1="368.90" y1="673.20" x2="372.10" y2="673.20" stroke="#111" stroke-width="0.9"/>
<text x="365.80" y="675.60" font-size="6.8" text-anchor="end" stroke="#231f20" textLength="3.70" lengthAdjust="spacingAndGlyphs">0</text>
<line x1="368.90" y1="661.58" x2="372.10" y2="661.58" stroke="#111" stroke-width="0.9"/>
<text x="365.80" y="663.98" font-size="6.8" text-anchor="end" stroke="#231f20" textLength="7.40" lengthAdjust="spacingAndGlyphs">20</text>
<line x1="368.90" y1="649.96" x2="372.10" y2="649.96" stroke="#111" stroke-width="0.9"/>
<text x="365.80" y="652.36" font-size="6.8" text-anchor="end" stroke="#231f20" textLength="7.40" lengthAdjust="spacingAndGlyphs">40</text>
<line x1="368.90" y1="638.34" x2="372.10" y2="638.34" stroke="#111" stroke-width="0.9"/>
<text x="365.80" y="640.74" font-size="6.8" text-anchor="end" stroke="#231f20" textLength="7.40" lengthAdjust="spacingAndGlyphs">60</text>
<line x1="368.90" y1="626.72" x2="372.10" y2="626.72" stroke="#111" stroke-width="0.9"/>
<text x="365.80" y="629.12" font-size="6.8" text-anchor="end" stroke="#231f20" textLength="7.40" lengthAdjust="spacingAndGlyphs">80</text>
<line x1="368.90" y1="615.10" x2="372.10" y2="615.10" stroke="#111" stroke-width="0.9"/>
<text x="365.80" y="617.50" font-size="6.8" text-anchor="end" stroke="#231f20" textLength="11.00" lengthAdjust="spacingAndGlyphs">100</text>
<line x1="368.90" y1="603.48" x2="372.10" y2="603.48" stroke="#111" stroke-width="0.9"/>
<text x="365.80" y="605.88" font-size="6.8" text-anchor="end" stroke="#231f20" textLength="11.00" lengthAdjust="spacingAndGlyphs">120</text>
<line x1="372.10" y1="673.20" x2="372.10" y2="676.10" stroke="#111" stroke-width="0.9"/>
<text x="368.60" y="685.80" font-size="7.8" stroke="#231f20" textLength="6.00" lengthAdjust="spacingAndGlyphs">10</text>
<text x="375.00" y="682.60" font-size="4.4" stroke="#231f20" textLength="2.20" lengthAdjust="spacingAndGlyphs">0</text>
<line x1="390.00" y1="673.20" x2="390.00" y2="676.10" stroke="#111" stroke-width="0.9"/>
<text x="386.50" y="685.80" font-size="7.8" stroke="#231f20" textLength="6.00" lengthAdjust="spacingAndGlyphs">10</text>
<text x="392.90" y="682.60" font-size="4.4" stroke="#231f20" textLength="2.20" lengthAdjust="spacingAndGlyphs">1</text>
<line x1="407.90" y1="673.20" x2="407.90" y2="676.10" stroke="#111" stroke-width="0.9"/>
<text x="404.40" y="685.80" font-size="7.8" stroke="#231f20" textLength="6.00" lengthAdjust="spacingAndGlyphs">10</text>
<text x="410.80" y="682.60" font-size="4.4" stroke="#231f20" textLength="2.20" lengthAdjust="spacingAndGlyphs">2</text>
<line x1="425.80" y1="673.20" x2="425.80" y2="676.10" stroke="#111" stroke-width="0.9"/>
<text x="422.30" y="685.80" font-size="7.8" stroke="#231f20" textLength="6.00" lengthAdjust="spacingAndGlyphs">10</text>
<text x="428.70" y="682.60" font-size="4.4" stroke="#231f20" textLength="2.20" lengthAdjust="spacingAndGlyphs">3</text>
<line x1="443.70" y1="673.20" x2="443.70" y2="676.10" stroke="#111" stroke-width="0.9"/>
<text x="440.20" y="685.80" font-size="7.8" stroke="#231f20" textLength="6.00" lengthAdjust="spacingAndGlyphs">10</text>
<text x="446.60" y="682.60" font-size="4.4" stroke="#231f20" textLength="2.20" lengthAdjust="spacingAndGlyphs">4</text>
<text x="409.30" y="698.00" font-size="8.6" text-anchor="middle" stroke="#231f20" textLength="82.30" lengthAdjust="spacingAndGlyphs">Concentration of Ven (nM)</text>
<text x="349.20" y="636.70" font-size="9.2" text-anchor="middle" stroke="#231f20" textLength="41.80" lengthAdjust="spacingAndGlyphs" transform="rotate(-90 349.20 636.70)">% viable cells</text>
<line x1="372.90" y1="644.4" x2="446.50" y2="644.4" stroke="#111" stroke-width="1" stroke-dasharray="1 1.3"/>
<polyline points="380.00,626.44 380.85,626.86 381.70,627.30 382.55,627.74 383.40,628.20 384.25,628.67 385.10,629.15 385.95,629.65 386.80,630.15 387.65,630.67 388.50,631.20 389.35,631.74 390.20,632.28 391.05,632.84 391.90,633.41 392.75,633.99 393.60,634.58 394.45,635.18 395.30,635.78 396.15,636.40 397.00,637.02 397.85,637.65 398.70,638.28 399.55,638.92 400.40,639.57 401.25,640.22 402.10,640.88 402.95,641.54 403.80,642.20 404.65,642.86 405.50,643.52 406.35,644.19 407.20,644.85 408.05,645.52 408.90,646.18 409.75,646.84 410.60,647.50 411.45,648.15 412.30,648.81 413.15,649.45 414.00,650.09 414.85,650.73 415.70,651.35 416.55,651.97 417.40,652.59 418.25,653.19 419.10,653.79 419.95,654.38 420.80,654.95 421.65,655.52 422.50,656.08 423.35,656.63 424.20,657.17 425.05,657.69 425.90,658.21 426.75,658.71 427.60,659.20 428.45,659.68 429.30,660.15 430.15,660.61 431.00,661.06" fill="none" stroke="#3f8f3f" stroke-width="0.8" stroke-linejoin="round"/>
<polyline points="380.00,615.10 380.85,615.11 381.70,615.11 382.55,615.11 383.40,615.11 384.25,615.11 385.10,615.11 385.95,615.11 386.80,615.12 387.65,615.12 388.50,615.12 389.35,615.13 390.20,615.13 391.05,615.14 391.90,615.14 392.75,615.15 393.60,615.16 394.45,615.17 395.30,615.19 396.15,615.20 397.00,615.22 397.85,615.24 398.70,615.27 399.55,615.30 400.40,615.33 401.25,615.37 402.10,615.42 402.95,615.48 403.80,615.55 404.65,615.63 405.50,615.73 406.35,615.84 407.20,615.97 408.05,616.12 408.90,616.30 409.75,616.52 410.60,616.77 411.45,617.06 412.30,617.40 413.15,617.79 414.00,618.25 414.85,618.79 415.70,619.41 416.55,620.12 417.40,620.94 418.25,621.87 419.10,622.93 419.95,624.13 420.80,625.47 421.65,626.96 422.50,628.61 423.35,630.41 424.20,632.36 425.05,634.45 425.90,636.65 426.75,638.95 427.60,641.32 428.45,643.72 429.30,646.14 430.15,648.52 431.00,650.85" fill="none" stroke="#8e2c8f" stroke-width="0.8" stroke-linejoin="round"/>
<line x1="380.00" y1="630.40" x2="380.00" y2="639.60" stroke="#7fb47f" stroke-width="1.1"/>
<line x1="379.10" y1="630.40" x2="380.90" y2="630.40" stroke="#7fb47f" stroke-width="0.8"/>
<line x1="379.10" y1="639.60" x2="380.90" y2="639.60" stroke="#7fb47f" stroke-width="0.8"/>
<line x1="388.50" y1="629.00" x2="388.50" y2="635.80" stroke="#7fb47f" stroke-width="1.1"/>
<line x1="387.60" y1="629.00" x2="389.40" y2="629.00" stroke="#7fb47f" stroke-width="0.8"/>
<line x1="387.60" y1="635.80" x2="389.40" y2="635.80" stroke="#7fb47f" stroke-width="0.8"/>
<line x1="414.00" y1="648.30" x2="414.00" y2="654.00" stroke="#7fb47f" stroke-width="1.1"/>
<line x1="413.10" y1="648.30" x2="414.90" y2="648.30" stroke="#7fb47f" stroke-width="0.8"/>
<line x1="413.10" y1="654.00" x2="414.90" y2="654.00" stroke="#7fb47f" stroke-width="0.8"/>
<line x1="380.00" y1="606.30" x2="380.00" y2="619.60" stroke="#b77bb8" stroke-width="1.1"/>
<line x1="379.10" y1="606.30" x2="380.90" y2="606.30" stroke="#b77bb8" stroke-width="0.8"/>
<line x1="379.10" y1="619.60" x2="380.90" y2="619.60" stroke="#b77bb8" stroke-width="0.8"/>
<line x1="397.00" y1="605.00" x2="397.00" y2="612.30" stroke="#b77bb8" stroke-width="1.1"/>
<line x1="396.10" y1="605.00" x2="397.90" y2="605.00" stroke="#b77bb8" stroke-width="0.8"/>
<line x1="396.10" y1="612.30" x2="397.90" y2="612.30" stroke="#b77bb8" stroke-width="0.8"/>
<line x1="405.50" y1="606.50" x2="405.50" y2="610.80" stroke="#b77bb8" stroke-width="1.1"/>
<line x1="404.60" y1="606.50" x2="406.40" y2="606.50" stroke="#b77bb8" stroke-width="0.8"/>
<line x1="404.60" y1="610.80" x2="406.40" y2="610.80" stroke="#b77bb8" stroke-width="0.8"/>
<line x1="422.50" y1="627.00" x2="422.50" y2="633.50" stroke="#b77bb8" stroke-width="1.1"/>
<line x1="421.60" y1="627.00" x2="423.40" y2="627.00" stroke="#b77bb8" stroke-width="0.8"/>
<line x1="421.60" y1="633.50" x2="423.40" y2="633.50" stroke="#b77bb8" stroke-width="0.8"/>
<circle cx="380.00" cy="634.80" r="1.1" fill="#3f8f3f"/>
<circle cx="388.50" cy="632.00" r="1.1" fill="#3f8f3f"/>
<circle cx="397.00" cy="634.20" r="1.1" fill="#3f8f3f"/>
<circle cx="405.50" cy="638.10" r="1.1" fill="#3f8f3f"/>
<circle cx="414.00" cy="651.50" r="1.1" fill="#3f8f3f"/>
<circle cx="422.50" cy="659.40" r="1.1" fill="#3f8f3f"/>
<circle cx="431.00" cy="670.80" r="1.1" fill="#3f8f3f"/>
<circle cx="380.00" cy="613.30" r="1.1" fill="#8e2c8f"/>
<circle cx="388.50" cy="609.70" r="1.1" fill="#8e2c8f"/>
<circle cx="397.00" cy="608.80" r="1.1" fill="#8e2c8f"/>
<circle cx="405.50" cy="608.80" r="1.1" fill="#8e2c8f"/>
<circle cx="414.00" cy="618.00" r="1.1" fill="#8e2c8f"/>
<circle cx="422.50" cy="630.40" r="1.1" fill="#8e2c8f"/>
<circle cx="431.00" cy="652.10" r="1.1" fill="#8e2c8f"/>
<line x1="446.70" y1="614.90" x2="453.30" y2="614.90" stroke="#3f8f3f" stroke-width="1.1"/>
<circle cx="450.00" cy="614.90" r="0.9" fill="#3f8f3f"/>
<text x="456.60" y="617.40" font-size="7.2" fill="#333" stroke="#333" font-style="italic" textLength="11.70" lengthAdjust="spacingAndGlyphs">p53</text>
<text x="468.40" y="614.10" font-size="4.0" fill="#333" stroke="#333" font-style="italic" textLength="5.80" lengthAdjust="spacingAndGlyphs">WT</text>
<line x1="446.70" y1="623.60" x2="453.30" y2="623.60" stroke="#8e2c8f" stroke-width="1.1"/>
<circle cx="450.00" cy="623.60" r="0.9" fill="#8e2c8f"/>
<text x="456.60" y="626.10" font-size="7.2" fill="#333" stroke="#333" font-style="italic" textLength="11.70" lengthAdjust="spacingAndGlyphs">p53</text>
<text x="468.40" y="622.80" font-size="4.0" fill="#333" stroke="#333" font-style="italic" textLength="12.00" lengthAdjust="spacingAndGlyphs">R172H</text>
<rect x="446.60" y="635.90" width="45.50" height="17.60" fill="none" stroke="#111" stroke-width="1.1"/>
<line x1="446.60" y1="644.60" x2="492.10" y2="644.60" stroke="#111" stroke-width="1.0"/>
<line x1="466.10" y1="635.90" x2="466.10" y2="653.50" stroke="#111" stroke-width="1.0"/>
<text x="448.40" y="642.30" font-size="6.0" stroke="#231f20" font-style="italic" textLength="9.30" lengthAdjust="spacingAndGlyphs">p53</text>
<text x="457.80" y="640.00" font-size="3.2" stroke="#231f20" font-style="italic" textLength="4.00" lengthAdjust="spacingAndGlyphs">WT</text>
<text x="467.90" y="642.30" font-size="6.0" stroke="#231f20" font-style="italic" textLength="9.30" lengthAdjust="spacingAndGlyphs">p53</text>
<text x="477.30" y="640.00" font-size="3.2" stroke="#231f20" font-style="italic" textLength="8.50" lengthAdjust="spacingAndGlyphs">R172H</text>
<text x="448.20" y="651.30" font-size="6.6" stroke="#231f20" textLength="15.60" lengthAdjust="spacingAndGlyphs">66.08</text>
<text x="467.70" y="651.30" font-size="6.6" stroke="#231f20" textLength="12.60" lengthAdjust="spacingAndGlyphs">1373</text>
<rect x="0" y="0" width="520" height="1.1" fill="#000"/>
<rect x="0" y="0" width="1.1" height="708" fill="#000"/>
<rect x="518.7" y="0" width="1.3" height="708" fill="#000"/>
<rect x="0" y="706.6" width="520" height="1.4" fill="#000"/>
</svg>
</body></html>
